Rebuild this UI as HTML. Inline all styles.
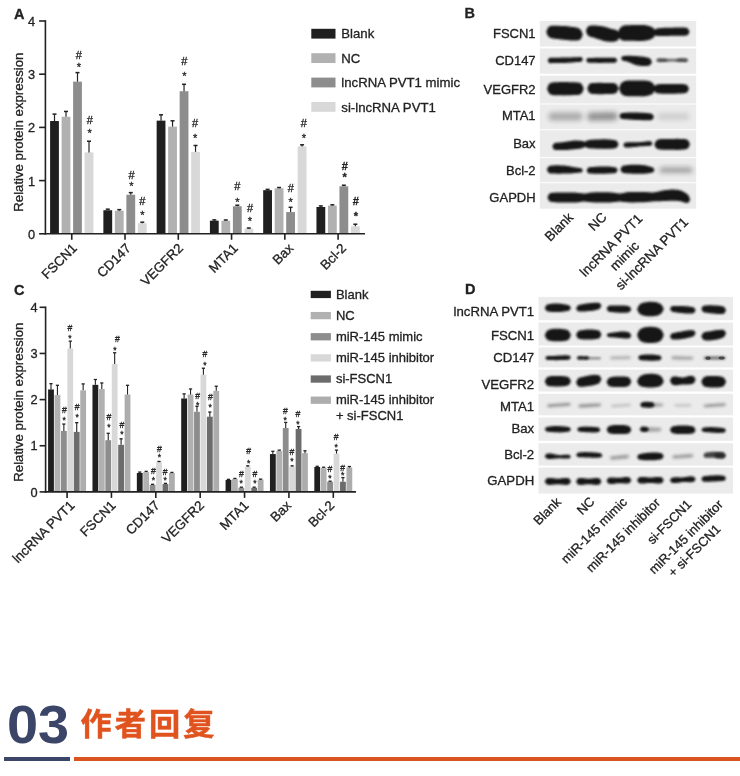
<!DOCTYPE html>
<html lang="zh"><head><meta charset="utf-8"><title>Figure</title>
<style>
html,body{margin:0;padding:0;background:#fff;}
body{width:740px;height:776px;position:relative;overflow:hidden;font-family:"Liberation Sans", "Noto Sans CJK SC", sans-serif;}
svg{position:absolute;left:0;top:0;}
svg text{font-family:"Liberation Sans", "Noto Sans CJK SC", sans-serif;stroke:#222;stroke-width:.3px;}
.num{position:absolute;left:7px;top:694.3px;font-size:54px;line-height:60px;font-weight:bold;color:#3b4567;transform:scaleX(1.035);transform-origin:0 0;}
.ttl{position:absolute;left:80.4px;top:701.6px;font-size:31.2px;line-height:46px;font-weight:bold;color:#e0531f;letter-spacing:3.1px;white-space:nowrap;-webkit-text-stroke:0.5px #e0531f;}
.l1{position:absolute;left:4px;top:757px;width:66px;height:4px;background:#3b4567;}
.l2{position:absolute;left:74px;top:757px;width:666px;height:4px;background:#d9541f;}
</style></head><body>
<svg width="740" height="690" viewBox="0 0 740 690">
<defs>
<filter id="s0" x="-5%" y="-20%" width="110%" height="140%"><feGaussianBlur stdDeviation="0.45"/></filter>
<filter id="b0" x="-30%" y="-80%" width="160%" height="260%"><feGaussianBlur stdDeviation="0.6"/></filter>
<filter id="b1" x="-30%" y="-80%" width="160%" height="260%"><feGaussianBlur stdDeviation="1.0"/></filter>
<filter id="b2" x="-30%" y="-80%" width="160%" height="260%"><feGaussianBlur stdDeviation="1.8"/></filter>
<filter id="b3" x="-30%" y="-80%" width="160%" height="260%"><feGaussianBlur stdDeviation="2.6"/></filter>
</defs>
<rect x="50.10" y="121.02" width="8.80" height="112.78" fill="#1f1f1f"/>
<line x1="54.50" y1="121.02" x2="54.50" y2="114.10" stroke="#222" stroke-width="1.2"/>
<line x1="52.50" y1="114.10" x2="56.50" y2="114.10" stroke="#222" stroke-width="1.5"/>
<rect x="61.60" y="116.76" width="8.80" height="117.04" fill="#b1b1b1"/>
<line x1="66.00" y1="116.76" x2="66.00" y2="111.44" stroke="#222" stroke-width="1.2"/>
<line x1="64.00" y1="111.44" x2="68.00" y2="111.44" stroke="#222" stroke-width="1.5"/>
<rect x="73.10" y="81.65" width="8.80" height="152.15" fill="#8d8d8d"/>
<line x1="77.50" y1="81.65" x2="77.50" y2="72.60" stroke="#222" stroke-width="1.2"/>
<line x1="75.50" y1="72.60" x2="79.50" y2="72.60" stroke="#222" stroke-width="1.5"/>
<rect x="84.60" y="152.40" width="8.80" height="81.40" fill="#d8d8d8"/>
<line x1="89.00" y1="152.40" x2="89.00" y2="141.23" stroke="#222" stroke-width="1.2"/>
<line x1="87.00" y1="141.23" x2="91.00" y2="141.23" stroke="#222" stroke-width="1.5"/>
<rect x="103.37" y="210.23" width="8.80" height="23.57" fill="#1f1f1f"/>
<line x1="107.77" y1="210.23" x2="107.77" y2="209.17" stroke="#222" stroke-width="1.2"/>
<line x1="105.77" y1="209.17" x2="109.77" y2="209.17" stroke="#222" stroke-width="1.5"/>
<rect x="114.87" y="210.71" width="8.80" height="23.09" fill="#b1b1b1"/>
<line x1="119.27" y1="210.71" x2="119.27" y2="209.65" stroke="#222" stroke-width="1.2"/>
<line x1="117.27" y1="209.65" x2="121.27" y2="209.65" stroke="#222" stroke-width="1.5"/>
<rect x="126.37" y="194.75" width="8.80" height="39.05" fill="#8d8d8d"/>
<line x1="130.77" y1="194.75" x2="130.77" y2="192.62" stroke="#222" stroke-width="1.2"/>
<line x1="128.77" y1="192.62" x2="132.77" y2="192.62" stroke="#222" stroke-width="1.5"/>
<rect x="137.87" y="223.27" width="8.80" height="10.53" fill="#d8d8d8"/>
<line x1="142.27" y1="223.27" x2="142.27" y2="222.20" stroke="#222" stroke-width="1.2"/>
<line x1="140.27" y1="222.20" x2="144.27" y2="222.20" stroke="#222" stroke-width="1.5"/>
<rect x="156.64" y="120.64" width="8.80" height="113.16" fill="#1f1f1f"/>
<line x1="161.04" y1="120.64" x2="161.04" y2="114.79" stroke="#222" stroke-width="1.2"/>
<line x1="159.04" y1="114.79" x2="163.04" y2="114.79" stroke="#222" stroke-width="1.5"/>
<rect x="168.14" y="126.66" width="8.80" height="107.14" fill="#b1b1b1"/>
<line x1="172.54" y1="126.66" x2="172.54" y2="120.80" stroke="#222" stroke-width="1.2"/>
<line x1="170.54" y1="120.80" x2="174.54" y2="120.80" stroke="#222" stroke-width="1.5"/>
<rect x="179.64" y="91.22" width="8.80" height="142.58" fill="#8d8d8d"/>
<line x1="184.04" y1="91.22" x2="184.04" y2="84.31" stroke="#222" stroke-width="1.2"/>
<line x1="182.04" y1="84.31" x2="186.04" y2="84.31" stroke="#222" stroke-width="1.5"/>
<rect x="191.14" y="151.87" width="8.80" height="81.93" fill="#d8d8d8"/>
<line x1="195.54" y1="151.87" x2="195.54" y2="145.49" stroke="#222" stroke-width="1.2"/>
<line x1="193.54" y1="145.49" x2="197.54" y2="145.49" stroke="#222" stroke-width="1.5"/>
<rect x="209.91" y="220.66" width="8.80" height="13.14" fill="#1f1f1f"/>
<line x1="214.31" y1="220.66" x2="214.31" y2="219.86" stroke="#222" stroke-width="1.2"/>
<line x1="212.31" y1="219.86" x2="216.31" y2="219.86" stroke="#222" stroke-width="1.5"/>
<rect x="221.41" y="220.77" width="8.80" height="13.03" fill="#b1b1b1"/>
<line x1="225.81" y1="220.77" x2="225.81" y2="219.97" stroke="#222" stroke-width="1.2"/>
<line x1="223.81" y1="219.97" x2="227.81" y2="219.97" stroke="#222" stroke-width="1.5"/>
<rect x="232.91" y="206.30" width="8.80" height="27.50" fill="#8d8d8d"/>
<line x1="237.31" y1="206.30" x2="237.31" y2="205.23" stroke="#222" stroke-width="1.2"/>
<line x1="235.31" y1="205.23" x2="239.31" y2="205.23" stroke="#222" stroke-width="1.5"/>
<rect x="244.41" y="228.69" width="8.80" height="5.11" fill="#d8d8d8"/>
<line x1="248.81" y1="228.69" x2="248.81" y2="228.05" stroke="#222" stroke-width="1.2"/>
<line x1="246.81" y1="228.05" x2="250.81" y2="228.05" stroke="#222" stroke-width="1.5"/>
<rect x="263.18" y="190.18" width="8.80" height="43.62" fill="#1f1f1f"/>
<line x1="267.58" y1="190.18" x2="267.58" y2="189.38" stroke="#222" stroke-width="1.2"/>
<line x1="265.58" y1="189.38" x2="269.58" y2="189.38" stroke="#222" stroke-width="1.5"/>
<rect x="274.68" y="188.31" width="8.80" height="45.49" fill="#b1b1b1"/>
<line x1="279.08" y1="188.31" x2="279.08" y2="187.52" stroke="#222" stroke-width="1.2"/>
<line x1="277.08" y1="187.52" x2="281.08" y2="187.52" stroke="#222" stroke-width="1.5"/>
<rect x="286.18" y="212.09" width="8.80" height="21.71" fill="#8d8d8d"/>
<line x1="290.58" y1="212.09" x2="290.58" y2="207.31" stroke="#222" stroke-width="1.2"/>
<line x1="288.58" y1="207.31" x2="292.58" y2="207.31" stroke="#222" stroke-width="1.5"/>
<rect x="297.68" y="146.39" width="8.80" height="87.41" fill="#d8d8d8"/>
<line x1="302.08" y1="146.39" x2="302.08" y2="144.80" stroke="#222" stroke-width="1.2"/>
<line x1="300.08" y1="144.80" x2="304.08" y2="144.80" stroke="#222" stroke-width="1.5"/>
<rect x="316.45" y="206.99" width="8.80" height="26.81" fill="#1f1f1f"/>
<line x1="320.85" y1="206.99" x2="320.85" y2="205.92" stroke="#222" stroke-width="1.2"/>
<line x1="318.85" y1="205.92" x2="322.85" y2="205.92" stroke="#222" stroke-width="1.5"/>
<rect x="327.95" y="205.60" width="8.80" height="28.20" fill="#b1b1b1"/>
<line x1="332.35" y1="205.60" x2="332.35" y2="204.81" stroke="#222" stroke-width="1.2"/>
<line x1="330.35" y1="204.81" x2="334.35" y2="204.81" stroke="#222" stroke-width="1.5"/>
<rect x="339.45" y="186.29" width="8.80" height="47.51" fill="#8d8d8d"/>
<line x1="343.85" y1="186.29" x2="343.85" y2="185.23" stroke="#222" stroke-width="1.2"/>
<line x1="341.85" y1="185.23" x2="345.85" y2="185.23" stroke="#222" stroke-width="1.5"/>
<rect x="350.95" y="226.35" width="8.80" height="7.45" fill="#d8d8d8"/>
<line x1="355.35" y1="226.35" x2="355.35" y2="224.22" stroke="#222" stroke-width="1.2"/>
<line x1="353.35" y1="224.22" x2="357.35" y2="224.22" stroke="#222" stroke-width="1.5"/>
<line x1="45.40" y1="20.20" x2="45.40" y2="234.60" stroke="#222" stroke-width="1.6"/>
<line x1="44.60" y1="233.80" x2="365.00" y2="233.80" stroke="#222" stroke-width="1.6"/>
<line x1="39.10" y1="233.80" x2="45.40" y2="233.80" stroke="#222" stroke-width="1.6"/>
<text x="31.50" y="238.70" font-size="12.8" text-anchor="middle" fill="#222">0</text>
<line x1="39.10" y1="180.60" x2="45.40" y2="180.60" stroke="#222" stroke-width="1.6"/>
<text x="31.50" y="185.50" font-size="12.8" text-anchor="middle" fill="#222">1</text>
<line x1="39.10" y1="127.40" x2="45.40" y2="127.40" stroke="#222" stroke-width="1.6"/>
<text x="31.50" y="132.30" font-size="12.8" text-anchor="middle" fill="#222">2</text>
<line x1="39.10" y1="74.20" x2="45.40" y2="74.20" stroke="#222" stroke-width="1.6"/>
<text x="31.50" y="79.10" font-size="12.8" text-anchor="middle" fill="#222">3</text>
<line x1="39.10" y1="21.00" x2="45.40" y2="21.00" stroke="#222" stroke-width="1.6"/>
<text x="31.50" y="25.90" font-size="12.8" text-anchor="middle" fill="#222">4</text>
<line x1="71.75" y1="233.80" x2="71.75" y2="239.80" stroke="#222" stroke-width="1.6"/>
<text x="77.75" y="249.00" font-size="13.3" text-anchor="end" fill="#222" transform="rotate(-45 77.75 249.00)">FSCN1</text>
<line x1="125.02" y1="233.80" x2="125.02" y2="239.80" stroke="#222" stroke-width="1.6"/>
<text x="131.82" y="249.00" font-size="13.3" text-anchor="end" fill="#222" transform="rotate(-45 131.82 249.00)">CD147</text>
<line x1="178.29" y1="233.80" x2="178.29" y2="239.80" stroke="#222" stroke-width="1.6"/>
<text x="183.89" y="249.00" font-size="13.3" text-anchor="end" fill="#222" transform="rotate(-45 183.89 249.00)">VEGFR2</text>
<line x1="231.56" y1="233.80" x2="231.56" y2="239.80" stroke="#222" stroke-width="1.6"/>
<text x="238.76" y="249.00" font-size="13.3" text-anchor="end" fill="#222" transform="rotate(-45 238.76 249.00)">MTA1</text>
<line x1="284.83" y1="233.80" x2="284.83" y2="239.80" stroke="#222" stroke-width="1.6"/>
<text x="294.23" y="249.00" font-size="13.3" text-anchor="end" fill="#222" transform="rotate(-45 294.23 249.00)">Bax</text>
<line x1="338.10" y1="233.80" x2="338.10" y2="239.80" stroke="#222" stroke-width="1.6"/>
<text x="347.10" y="249.00" font-size="13.3" text-anchor="end" fill="#222" transform="rotate(-45 347.10 249.00)">Bcl-2</text>
<text x="22.70" y="132.20" font-size="13.2" text-anchor="middle" fill="#222" transform="rotate(-90 22.70 132.20)">Relative protein expression</text>
<text x="14.00" y="18.60" font-size="14.5" text-anchor="start" fill="#222" font-weight="bold">A</text>
<text x="78.90" y="59.06" font-size="11" text-anchor="middle" fill="#222">#</text>
<text x="78.90" y="70.64" font-size="11" text-anchor="middle" fill="#222">*</text>
<text x="89.70" y="124.46" font-size="11" text-anchor="middle" fill="#222">#</text>
<text x="89.70" y="137.14" font-size="11" text-anchor="middle" fill="#222">*</text>
<text x="131.50" y="179.26" font-size="11" text-anchor="middle" fill="#222">#</text>
<text x="131.50" y="190.24" font-size="11" text-anchor="middle" fill="#222">*</text>
<text x="142.40" y="204.76" font-size="11" text-anchor="middle" fill="#222">#</text>
<text x="142.40" y="218.84" font-size="11" text-anchor="middle" fill="#222">*</text>
<text x="184.40" y="65.46" font-size="11" text-anchor="middle" fill="#222">#</text>
<text x="184.40" y="79.64" font-size="11" text-anchor="middle" fill="#222">*</text>
<text x="195.10" y="126.76" font-size="11" text-anchor="middle" fill="#222">#</text>
<text x="195.10" y="142.34" font-size="11" text-anchor="middle" fill="#222">*</text>
<text x="237.40" y="190.36" font-size="11" text-anchor="middle" fill="#222">#</text>
<text x="237.40" y="205.64" font-size="11" text-anchor="middle" fill="#222">*</text>
<text x="250.00" y="211.56" font-size="11" text-anchor="middle" fill="#222">#</text>
<text x="250.00" y="224.84" font-size="11" text-anchor="middle" fill="#222">*</text>
<text x="290.70" y="191.56" font-size="11" text-anchor="middle" fill="#222">#</text>
<text x="290.70" y="206.04" font-size="11" text-anchor="middle" fill="#222">*</text>
<text x="303.80" y="127.16" font-size="11" text-anchor="middle" fill="#222">#</text>
<text x="303.80" y="141.74" font-size="11" text-anchor="middle" fill="#222">*</text>
<text x="344.70" y="169.76" font-size="11" text-anchor="middle" fill="#222" font-weight="bold">#</text>
<text x="344.70" y="181.24" font-size="11" text-anchor="middle" fill="#222" font-weight="bold">*</text>
<text x="355.80" y="205.36" font-size="11" text-anchor="middle" fill="#222" font-weight="bold">#</text>
<text x="355.80" y="219.84" font-size="11" text-anchor="middle" fill="#222" font-weight="bold">*</text>
<rect x="311.30" y="28.80" width="24.20" height="9.80" fill="#1f1f1f"/>
<text x="341.30" y="38.40" font-size="13.2" text-anchor="start" fill="#222">Blank</text>
<rect x="311.30" y="53.20" width="24.20" height="9.80" fill="#b1b1b1"/>
<text x="341.30" y="62.80" font-size="13.2" text-anchor="start" fill="#222">NC</text>
<rect x="311.30" y="77.60" width="24.20" height="9.80" fill="#8d8d8d"/>
<text x="341.30" y="87.20" font-size="13.2" text-anchor="start" fill="#222">lncRNA PVT1 mimic</text>
<rect x="311.30" y="102.00" width="24.20" height="9.80" fill="#d8d8d8"/>
<text x="341.30" y="111.60" font-size="13.2" text-anchor="start" fill="#222">si-lncRNA PVT1</text>
<rect x="48.10" y="389.45" width="5.80" height="102.45" fill="#1f1f1f"/>
<line x1="51.00" y1="389.45" x2="51.00" y2="383.68" stroke="#222" stroke-width="1.1"/>
<line x1="49.40" y1="383.68" x2="52.60" y2="383.68" stroke="#222" stroke-width="1.3"/>
<rect x="54.53" y="394.98" width="5.80" height="96.92" fill="#b1b1b1"/>
<line x1="57.43" y1="394.98" x2="57.43" y2="385.29" stroke="#222" stroke-width="1.1"/>
<line x1="55.83" y1="385.29" x2="59.03" y2="385.29" stroke="#222" stroke-width="1.3"/>
<rect x="60.96" y="430.98" width="5.80" height="60.92" fill="#8d8d8d"/>
<line x1="63.86" y1="430.98" x2="63.86" y2="424.06" stroke="#222" stroke-width="1.1"/>
<line x1="62.26" y1="424.06" x2="65.46" y2="424.06" stroke="#222" stroke-width="1.3"/>
<rect x="67.39" y="348.56" width="5.80" height="143.34" fill="#d8d8d8"/>
<line x1="70.29" y1="348.56" x2="70.29" y2="341.17" stroke="#222" stroke-width="1.1"/>
<line x1="68.69" y1="341.17" x2="71.89" y2="341.17" stroke="#222" stroke-width="1.3"/>
<rect x="73.82" y="431.90" width="5.80" height="60.00" fill="#6c6c6c"/>
<line x1="76.72" y1="431.90" x2="76.72" y2="422.67" stroke="#222" stroke-width="1.1"/>
<line x1="75.12" y1="422.67" x2="78.32" y2="422.67" stroke="#222" stroke-width="1.3"/>
<rect x="80.25" y="390.37" width="5.80" height="101.53" fill="#adadad"/>
<line x1="83.15" y1="390.37" x2="83.15" y2="383.91" stroke="#222" stroke-width="1.1"/>
<line x1="81.55" y1="383.91" x2="84.75" y2="383.91" stroke="#222" stroke-width="1.3"/>
<rect x="92.47" y="384.83" width="5.80" height="107.07" fill="#1f1f1f"/>
<line x1="95.37" y1="384.83" x2="95.37" y2="379.52" stroke="#222" stroke-width="1.1"/>
<line x1="93.77" y1="379.52" x2="96.97" y2="379.52" stroke="#222" stroke-width="1.3"/>
<rect x="98.90" y="388.99" width="5.80" height="102.91" fill="#b1b1b1"/>
<line x1="101.80" y1="388.99" x2="101.80" y2="382.99" stroke="#222" stroke-width="1.1"/>
<line x1="100.20" y1="382.99" x2="103.40" y2="382.99" stroke="#222" stroke-width="1.3"/>
<rect x="105.33" y="440.21" width="5.80" height="51.69" fill="#8d8d8d"/>
<line x1="108.23" y1="440.21" x2="108.23" y2="433.29" stroke="#222" stroke-width="1.1"/>
<line x1="106.63" y1="433.29" x2="109.83" y2="433.29" stroke="#222" stroke-width="1.3"/>
<rect x="111.76" y="364.06" width="5.80" height="127.84" fill="#d8d8d8"/>
<line x1="114.66" y1="364.06" x2="114.66" y2="352.76" stroke="#222" stroke-width="1.1"/>
<line x1="113.06" y1="352.76" x2="116.26" y2="352.76" stroke="#222" stroke-width="1.3"/>
<rect x="118.19" y="444.83" width="5.80" height="47.07" fill="#6c6c6c"/>
<line x1="121.09" y1="444.83" x2="121.09" y2="438.83" stroke="#222" stroke-width="1.1"/>
<line x1="119.49" y1="438.83" x2="122.69" y2="438.83" stroke="#222" stroke-width="1.3"/>
<rect x="124.62" y="394.52" width="5.80" height="97.38" fill="#adadad"/>
<line x1="127.52" y1="394.52" x2="127.52" y2="385.29" stroke="#222" stroke-width="1.1"/>
<line x1="125.92" y1="385.29" x2="129.12" y2="385.29" stroke="#222" stroke-width="1.3"/>
<rect x="136.84" y="472.98" width="5.80" height="18.92" fill="#1f1f1f"/>
<line x1="139.74" y1="472.98" x2="139.74" y2="472.06" stroke="#222" stroke-width="1.1"/>
<line x1="138.14" y1="472.06" x2="141.34" y2="472.06" stroke="#222" stroke-width="1.3"/>
<rect x="143.27" y="472.06" width="5.80" height="19.84" fill="#b1b1b1"/>
<line x1="146.17" y1="472.06" x2="146.17" y2="471.36" stroke="#222" stroke-width="1.1"/>
<line x1="144.57" y1="471.36" x2="147.77" y2="471.36" stroke="#222" stroke-width="1.3"/>
<rect x="149.70" y="484.89" width="5.80" height="7.01" fill="#8d8d8d"/>
<line x1="152.60" y1="484.89" x2="152.60" y2="484.33" stroke="#222" stroke-width="1.1"/>
<line x1="151.00" y1="484.33" x2="154.20" y2="484.33" stroke="#222" stroke-width="1.3"/>
<rect x="156.13" y="462.13" width="5.80" height="29.77" fill="#d8d8d8"/>
<line x1="159.03" y1="462.13" x2="159.03" y2="461.44" stroke="#222" stroke-width="1.1"/>
<line x1="157.43" y1="461.44" x2="160.63" y2="461.44" stroke="#222" stroke-width="1.3"/>
<rect x="162.56" y="484.05" width="5.80" height="7.85" fill="#6c6c6c"/>
<line x1="165.46" y1="484.05" x2="165.46" y2="483.36" stroke="#222" stroke-width="1.1"/>
<line x1="163.86" y1="483.36" x2="167.06" y2="483.36" stroke="#222" stroke-width="1.3"/>
<rect x="168.99" y="472.98" width="5.80" height="18.92" fill="#adadad"/>
<line x1="171.89" y1="472.98" x2="171.89" y2="472.42" stroke="#222" stroke-width="1.1"/>
<line x1="170.29" y1="472.42" x2="173.49" y2="472.42" stroke="#222" stroke-width="1.3"/>
<rect x="181.21" y="398.49" width="5.80" height="93.41" fill="#1f1f1f"/>
<line x1="184.11" y1="398.49" x2="184.11" y2="393.88" stroke="#222" stroke-width="1.1"/>
<line x1="182.51" y1="393.88" x2="185.71" y2="393.88" stroke="#222" stroke-width="1.3"/>
<rect x="187.64" y="394.52" width="5.80" height="97.38" fill="#b1b1b1"/>
<line x1="190.54" y1="394.52" x2="190.54" y2="388.99" stroke="#222" stroke-width="1.1"/>
<line x1="188.94" y1="388.99" x2="192.14" y2="388.99" stroke="#222" stroke-width="1.3"/>
<rect x="194.07" y="411.83" width="5.80" height="80.07" fill="#8d8d8d"/>
<line x1="196.97" y1="411.83" x2="196.97" y2="406.29" stroke="#222" stroke-width="1.1"/>
<line x1="195.37" y1="406.29" x2="198.57" y2="406.29" stroke="#222" stroke-width="1.3"/>
<rect x="200.50" y="374.68" width="5.80" height="117.22" fill="#d8d8d8"/>
<line x1="203.40" y1="374.68" x2="203.40" y2="368.22" stroke="#222" stroke-width="1.1"/>
<line x1="201.80" y1="368.22" x2="205.00" y2="368.22" stroke="#222" stroke-width="1.3"/>
<rect x="206.93" y="416.68" width="5.80" height="75.22" fill="#6c6c6c"/>
<line x1="209.83" y1="416.68" x2="209.83" y2="412.06" stroke="#222" stroke-width="1.1"/>
<line x1="208.23" y1="412.06" x2="211.43" y2="412.06" stroke="#222" stroke-width="1.3"/>
<rect x="213.36" y="390.83" width="5.80" height="101.07" fill="#adadad"/>
<line x1="216.26" y1="390.83" x2="216.26" y2="386.22" stroke="#222" stroke-width="1.1"/>
<line x1="214.66" y1="386.22" x2="217.86" y2="386.22" stroke="#222" stroke-width="1.3"/>
<rect x="225.58" y="479.90" width="5.80" height="12.00" fill="#1f1f1f"/>
<line x1="228.48" y1="479.90" x2="228.48" y2="479.35" stroke="#222" stroke-width="1.1"/>
<line x1="226.88" y1="479.35" x2="230.08" y2="479.35" stroke="#222" stroke-width="1.3"/>
<rect x="232.01" y="478.98" width="5.80" height="12.92" fill="#b1b1b1"/>
<line x1="234.91" y1="478.98" x2="234.91" y2="478.42" stroke="#222" stroke-width="1.1"/>
<line x1="233.31" y1="478.42" x2="236.51" y2="478.42" stroke="#222" stroke-width="1.3"/>
<rect x="238.44" y="487.75" width="5.80" height="4.15" fill="#8d8d8d"/>
<line x1="241.34" y1="487.75" x2="241.34" y2="487.19" stroke="#222" stroke-width="1.1"/>
<line x1="239.74" y1="487.19" x2="242.94" y2="487.19" stroke="#222" stroke-width="1.3"/>
<rect x="244.87" y="466.52" width="5.80" height="25.38" fill="#d8d8d8"/>
<line x1="247.77" y1="466.52" x2="247.77" y2="465.83" stroke="#222" stroke-width="1.1"/>
<line x1="246.17" y1="465.83" x2="249.37" y2="465.83" stroke="#222" stroke-width="1.3"/>
<rect x="251.30" y="487.75" width="5.80" height="4.15" fill="#6c6c6c"/>
<line x1="254.20" y1="487.75" x2="254.20" y2="487.19" stroke="#222" stroke-width="1.1"/>
<line x1="252.60" y1="487.19" x2="255.80" y2="487.19" stroke="#222" stroke-width="1.3"/>
<rect x="257.73" y="479.67" width="5.80" height="12.23" fill="#adadad"/>
<line x1="260.63" y1="479.67" x2="260.63" y2="479.12" stroke="#222" stroke-width="1.1"/>
<line x1="259.03" y1="479.12" x2="262.23" y2="479.12" stroke="#222" stroke-width="1.3"/>
<rect x="269.95" y="454.06" width="5.80" height="37.84" fill="#1f1f1f"/>
<line x1="272.85" y1="454.06" x2="272.85" y2="451.29" stroke="#222" stroke-width="1.1"/>
<line x1="271.25" y1="451.29" x2="274.45" y2="451.29" stroke="#222" stroke-width="1.3"/>
<rect x="276.38" y="450.83" width="5.80" height="41.07" fill="#b1b1b1"/>
<line x1="279.28" y1="450.83" x2="279.28" y2="450.13" stroke="#222" stroke-width="1.1"/>
<line x1="277.68" y1="450.13" x2="280.88" y2="450.13" stroke="#222" stroke-width="1.3"/>
<rect x="282.81" y="427.98" width="5.80" height="63.92" fill="#8d8d8d"/>
<line x1="285.71" y1="427.98" x2="285.71" y2="422.44" stroke="#222" stroke-width="1.1"/>
<line x1="284.11" y1="422.44" x2="287.31" y2="422.44" stroke="#222" stroke-width="1.3"/>
<rect x="289.24" y="466.52" width="5.80" height="25.38" fill="#d8d8d8"/>
<line x1="292.14" y1="466.52" x2="292.14" y2="465.83" stroke="#222" stroke-width="1.1"/>
<line x1="290.54" y1="465.83" x2="293.74" y2="465.83" stroke="#222" stroke-width="1.3"/>
<rect x="295.67" y="428.91" width="5.80" height="62.99" fill="#6c6c6c"/>
<line x1="298.57" y1="428.91" x2="298.57" y2="426.60" stroke="#222" stroke-width="1.1"/>
<line x1="296.97" y1="426.60" x2="300.17" y2="426.60" stroke="#222" stroke-width="1.3"/>
<rect x="302.10" y="453.13" width="5.80" height="38.77" fill="#adadad"/>
<line x1="305.00" y1="453.13" x2="305.00" y2="450.83" stroke="#222" stroke-width="1.1"/>
<line x1="303.40" y1="450.83" x2="306.60" y2="450.83" stroke="#222" stroke-width="1.3"/>
<rect x="314.32" y="466.98" width="5.80" height="24.92" fill="#1f1f1f"/>
<line x1="317.22" y1="466.98" x2="317.22" y2="466.29" stroke="#222" stroke-width="1.1"/>
<line x1="315.62" y1="466.29" x2="318.82" y2="466.29" stroke="#222" stroke-width="1.3"/>
<rect x="320.75" y="467.90" width="5.80" height="24.00" fill="#b1b1b1"/>
<line x1="323.65" y1="467.90" x2="323.65" y2="467.21" stroke="#222" stroke-width="1.1"/>
<line x1="322.05" y1="467.21" x2="325.25" y2="467.21" stroke="#222" stroke-width="1.3"/>
<rect x="327.18" y="481.75" width="5.80" height="10.15" fill="#8d8d8d"/>
<line x1="330.08" y1="481.75" x2="330.08" y2="481.19" stroke="#222" stroke-width="1.1"/>
<line x1="328.48" y1="481.19" x2="331.68" y2="481.19" stroke="#222" stroke-width="1.3"/>
<rect x="333.61" y="453.60" width="5.80" height="38.30" fill="#d8d8d8"/>
<line x1="336.51" y1="453.60" x2="336.51" y2="450.13" stroke="#222" stroke-width="1.1"/>
<line x1="334.91" y1="450.13" x2="338.11" y2="450.13" stroke="#222" stroke-width="1.3"/>
<rect x="340.04" y="481.75" width="5.80" height="10.15" fill="#6c6c6c"/>
<line x1="342.94" y1="481.75" x2="342.94" y2="477.59" stroke="#222" stroke-width="1.1"/>
<line x1="341.34" y1="477.59" x2="344.54" y2="477.59" stroke="#222" stroke-width="1.3"/>
<rect x="346.47" y="467.44" width="5.80" height="24.46" fill="#adadad"/>
<line x1="349.37" y1="467.44" x2="349.37" y2="466.52" stroke="#222" stroke-width="1.1"/>
<line x1="347.77" y1="466.52" x2="350.97" y2="466.52" stroke="#222" stroke-width="1.3"/>
<line x1="45.60" y1="306.50" x2="45.60" y2="492.70" stroke="#222" stroke-width="1.6"/>
<line x1="44.80" y1="491.90" x2="356.00" y2="491.90" stroke="#222" stroke-width="1.6"/>
<line x1="39.60" y1="491.90" x2="45.60" y2="491.90" stroke="#222" stroke-width="1.6"/>
<text x="34.00" y="496.50" font-size="12.8" text-anchor="middle" fill="#222">0</text>
<line x1="39.60" y1="445.75" x2="45.60" y2="445.75" stroke="#222" stroke-width="1.6"/>
<text x="34.00" y="450.35" font-size="12.8" text-anchor="middle" fill="#222">1</text>
<line x1="39.60" y1="399.60" x2="45.60" y2="399.60" stroke="#222" stroke-width="1.6"/>
<text x="34.00" y="404.20" font-size="12.8" text-anchor="middle" fill="#222">2</text>
<line x1="39.60" y1="353.45" x2="45.60" y2="353.45" stroke="#222" stroke-width="1.6"/>
<text x="34.00" y="358.05" font-size="12.8" text-anchor="middle" fill="#222">3</text>
<line x1="39.60" y1="307.30" x2="45.60" y2="307.30" stroke="#222" stroke-width="1.6"/>
<text x="34.00" y="311.90" font-size="12.8" text-anchor="middle" fill="#222">4</text>
<line x1="67.08" y1="491.90" x2="67.08" y2="497.90" stroke="#222" stroke-width="1.6"/>
<text x="75.38" y="506.30" font-size="13.3" text-anchor="end" fill="#222" transform="rotate(-45 75.38 506.30)">lncRNA PVT1</text>
<line x1="111.44" y1="491.90" x2="111.44" y2="497.90" stroke="#222" stroke-width="1.6"/>
<text x="116.44" y="506.30" font-size="13.3" text-anchor="end" fill="#222" transform="rotate(-45 116.44 506.30)">FSCN1</text>
<line x1="155.81" y1="491.90" x2="155.81" y2="497.90" stroke="#222" stroke-width="1.6"/>
<text x="160.52" y="506.30" font-size="13.3" text-anchor="end" fill="#222" transform="rotate(-45 160.52 506.30)">CD147</text>
<line x1="200.18" y1="491.90" x2="200.18" y2="497.90" stroke="#222" stroke-width="1.6"/>
<text x="204.88" y="506.30" font-size="13.3" text-anchor="end" fill="#222" transform="rotate(-45 204.88 506.30)">VEGFR2</text>
<line x1="244.55" y1="491.90" x2="244.55" y2="497.90" stroke="#222" stroke-width="1.6"/>
<text x="249.55" y="506.30" font-size="13.3" text-anchor="end" fill="#222" transform="rotate(-45 249.55 506.30)">MTA1</text>
<line x1="288.93" y1="491.90" x2="288.93" y2="497.90" stroke="#222" stroke-width="1.6"/>
<text x="292.03" y="506.30" font-size="13.3" text-anchor="end" fill="#222" transform="rotate(-45 292.03 506.30)">Bax</text>
<line x1="333.30" y1="491.90" x2="333.30" y2="497.90" stroke="#222" stroke-width="1.6"/>
<text x="335.20" y="506.30" font-size="13.3" text-anchor="end" fill="#222" transform="rotate(-45 335.20 506.30)">Bcl-2</text>
<text x="22.70" y="402.20" font-size="13.2" text-anchor="middle" fill="#222" transform="rotate(-90 22.70 402.20)">Relative protein expression</text>
<text x="14.00" y="294.80" font-size="14.5" text-anchor="start" fill="#222" font-weight="bold">C</text>
<text x="64.30" y="412.94" font-size="8.6" text-anchor="middle" fill="#222" stroke-width="0.1">#</text>
<text x="64.30" y="422.81" font-size="8.6" text-anchor="middle" fill="#222" stroke-width="0.1">*</text>
<text x="70.00" y="331.34" font-size="8.6" text-anchor="middle" fill="#222" stroke-width="0.1">#</text>
<text x="70.00" y="340.91" font-size="8.6" text-anchor="middle" fill="#222" stroke-width="0.1">*</text>
<text x="77.10" y="409.74" font-size="8.6" text-anchor="middle" fill="#222" stroke-width="0.1">#</text>
<text x="77.10" y="420.41" font-size="8.6" text-anchor="middle" fill="#222" stroke-width="0.1">*</text>
<text x="108.90" y="420.24" font-size="8.6" text-anchor="middle" fill="#222" stroke-width="0.1">#</text>
<text x="108.90" y="430.31" font-size="8.6" text-anchor="middle" fill="#222" stroke-width="0.1">*</text>
<text x="117.50" y="342.34" font-size="8.6" text-anchor="middle" fill="#222" stroke-width="0.1">#</text>
<text x="114.90" y="353.01" font-size="8.6" text-anchor="middle" fill="#222" stroke-width="0.1">*</text>
<text x="121.90" y="427.54" font-size="8.6" text-anchor="middle" fill="#222" stroke-width="0.1">#</text>
<text x="121.90" y="437.11" font-size="8.6" text-anchor="middle" fill="#222" stroke-width="0.1">*</text>
<text x="153.50" y="474.24" font-size="8.6" text-anchor="middle" fill="#222" stroke-width="0.1">#</text>
<text x="153.50" y="482.51" font-size="8.6" text-anchor="middle" fill="#222" stroke-width="0.1">*</text>
<text x="159.50" y="452.34" font-size="8.6" text-anchor="middle" fill="#222" stroke-width="0.1">#</text>
<text x="159.50" y="460.11" font-size="8.6" text-anchor="middle" fill="#222" stroke-width="0.1">*</text>
<text x="165.20" y="475.04" font-size="8.6" text-anchor="middle" fill="#222" stroke-width="0.1">#</text>
<text x="165.20" y="482.51" font-size="8.6" text-anchor="middle" fill="#222" stroke-width="0.1">*</text>
<text x="197.60" y="399.14" font-size="8.6" text-anchor="middle" fill="#222" stroke-width="0.1">#</text>
<text x="197.60" y="407.61" font-size="8.6" text-anchor="middle" fill="#222" stroke-width="0.1">*</text>
<text x="204.90" y="356.94" font-size="8.6" text-anchor="middle" fill="#222" stroke-width="0.1">#</text>
<text x="204.90" y="368.01" font-size="8.6" text-anchor="middle" fill="#222" stroke-width="0.1">*</text>
<text x="210.30" y="400.44" font-size="8.6" text-anchor="middle" fill="#222" stroke-width="0.1">#</text>
<text x="210.30" y="410.41" font-size="8.6" text-anchor="middle" fill="#222" stroke-width="0.1">*</text>
<text x="241.30" y="476.64" font-size="8.6" text-anchor="middle" fill="#222" stroke-width="0.1">#</text>
<text x="241.30" y="486.41" font-size="8.6" text-anchor="middle" fill="#222" stroke-width="0.1">*</text>
<text x="248.60" y="454.34" font-size="8.6" text-anchor="middle" fill="#222" stroke-width="0.1">#</text>
<text x="248.60" y="465.51" font-size="8.6" text-anchor="middle" fill="#222" stroke-width="0.1">*</text>
<text x="254.90" y="476.64" font-size="8.6" text-anchor="middle" fill="#222" stroke-width="0.1">#</text>
<text x="254.90" y="486.41" font-size="8.6" text-anchor="middle" fill="#222" stroke-width="0.1">*</text>
<text x="285.30" y="413.74" font-size="8.6" text-anchor="middle" fill="#222" stroke-width="0.1">#</text>
<text x="285.30" y="422.91" font-size="8.6" text-anchor="middle" fill="#222" stroke-width="0.1">*</text>
<text x="292.00" y="454.94" font-size="8.6" text-anchor="middle" fill="#222" stroke-width="0.1">#</text>
<text x="292.00" y="464.11" font-size="8.6" text-anchor="middle" fill="#222" stroke-width="0.1">*</text>
<text x="298.00" y="416.94" font-size="8.6" text-anchor="middle" fill="#222" stroke-width="0.1">#</text>
<text x="298.00" y="426.61" font-size="8.6" text-anchor="middle" fill="#222" stroke-width="0.1">*</text>
<text x="329.90" y="471.54" font-size="8.6" text-anchor="middle" fill="#222" stroke-width="0.1">#</text>
<text x="329.90" y="480.71" font-size="8.6" text-anchor="middle" fill="#222" stroke-width="0.1">*</text>
<text x="336.20" y="440.34" font-size="8.6" text-anchor="middle" fill="#222" stroke-width="0.1">#</text>
<text x="336.20" y="449.71" font-size="8.6" text-anchor="middle" fill="#222" stroke-width="0.1">*</text>
<text x="342.60" y="470.54" font-size="8.6" text-anchor="middle" fill="#222" stroke-width="0.1">#</text>
<text x="342.60" y="478.11" font-size="8.6" text-anchor="middle" fill="#222" stroke-width="0.1">*</text>
<rect x="310.70" y="290.80" width="20.20" height="7.30" fill="#1f1f1f"/>
<text x="335.90" y="298.50" font-size="13" text-anchor="start" fill="#222">Blank</text>
<rect x="310.70" y="311.95" width="20.20" height="7.30" fill="#b1b1b1"/>
<text x="335.90" y="319.65" font-size="13" text-anchor="start" fill="#222">NC</text>
<rect x="310.70" y="333.10" width="20.20" height="7.30" fill="#8d8d8d"/>
<text x="335.90" y="340.80" font-size="13" text-anchor="start" fill="#222">miR-145 mimic</text>
<rect x="310.70" y="354.25" width="20.20" height="7.30" fill="#d8d8d8"/>
<text x="335.90" y="361.95" font-size="13" text-anchor="start" fill="#222">miR-145 inhibitor</text>
<rect x="310.70" y="375.40" width="20.20" height="7.30" fill="#6c6c6c"/>
<text x="335.90" y="383.10" font-size="13" text-anchor="start" fill="#222">si-FSCN1</text>
<rect x="310.70" y="396.55" width="20.20" height="7.30" fill="#adadad"/>
<text x="335.90" y="404.25" font-size="13" text-anchor="start" fill="#222">miR-145 inhibitor</text>
<text x="335.90" y="419.70" font-size="13" text-anchor="start" fill="#222">+ si-FSCN1</text>
<text x="464.50" y="18.30" font-size="14.5" text-anchor="start" fill="#222" font-weight="bold">B</text>
<rect x="539.80" y="21.00" width="156.40" height="25.50" fill="#ebebeb" filter="url(#s0)"/>
<text x="535.60" y="37.80" font-size="13.0" text-anchor="end" fill="#222">FSCN1</text>
<rect x="539.80" y="48.50" width="156.40" height="25.20" fill="#ebebeb" filter="url(#s0)"/>
<text x="535.60" y="65.10" font-size="13.0" text-anchor="end" fill="#222">CD147</text>
<rect x="539.80" y="75.70" width="156.40" height="27.80" fill="#ebebeb" filter="url(#s0)"/>
<text x="535.60" y="93.50" font-size="13.0" text-anchor="end" fill="#222">VEGFR2</text>
<rect x="539.80" y="104.50" width="156.40" height="24.70" fill="#ebebeb" filter="url(#s0)"/>
<text x="535.60" y="120.30" font-size="13.0" text-anchor="end" fill="#222">MTA1</text>
<rect x="539.80" y="130.20" width="156.40" height="26.90" fill="#ebebeb" filter="url(#s0)"/>
<text x="535.60" y="148.30" font-size="13.0" text-anchor="end" fill="#222">Bax</text>
<rect x="539.80" y="158.10" width="156.40" height="24.10" fill="#ebebeb" filter="url(#s0)"/>
<text x="535.60" y="174.80" font-size="13.0" text-anchor="end" fill="#222">Bcl-2</text>
<rect x="539.80" y="183.20" width="156.40" height="25.50" fill="#ebebeb" filter="url(#s0)"/>
<text x="535.60" y="201.70" font-size="13.0" text-anchor="end" fill="#222">GAPDH</text>
<path d="M546.2,32.0 547.9,27.7 549.7,26.3 551.4,25.7 553.2,25.7 554.9,25.7 556.7,25.8 558.4,25.8 560.1,25.9 561.9,25.9 563.6,26.0 565.4,26.1 567.1,26.3 568.9,26.5 570.6,26.7 572.3,26.9 574.1,27.1 575.8,27.4 577.6,27.8 579.3,28.7 581.1,30.2 582.8,34.5 582.8,34.5 581.1,38.7 579.3,39.9 577.6,40.5 575.8,40.6 574.1,40.6 572.3,40.5 570.6,40.4 568.9,40.3 567.1,40.1 565.4,40.0 563.6,39.8 561.9,39.6 560.1,39.4 558.4,39.1 556.7,38.9 554.9,38.7 553.2,38.4 551.4,38.2 549.7,37.5 547.9,36.1 546.2,32.0Z M585.8,31.0 587.5,27.1 589.2,26.0 590.9,25.6 592.6,25.5 594.3,25.5 596.1,25.6 597.8,25.7 599.5,25.9 601.2,26.1 602.9,26.4 604.6,26.8 606.3,27.2 608.0,27.7 609.7,28.3 611.5,28.9 613.2,29.3 614.9,29.6 616.6,30.2 618.3,31.5 620.0,35.6 620.0,35.6 618.3,39.7 616.6,41.0 614.9,41.6 613.2,41.7 611.5,41.7 609.7,41.7 608.0,41.6 606.3,41.4 604.6,41.1 602.9,40.7 601.2,40.1 599.5,39.6 597.8,39.0 596.1,38.4 594.3,37.8 592.6,37.3 590.9,36.9 589.2,36.3 587.5,35.0 585.8,31.0Z M617.5,33.9 619.2,29.3 620.8,27.3 622.5,26.1 624.2,25.5 625.9,25.3 627.5,25.2 629.2,25.2 630.9,25.1 632.6,25.1 634.2,25.1 635.9,25.1 637.6,25.1 639.3,25.1 640.9,25.0 642.6,25.1 644.3,25.1 646.0,25.3 647.6,25.7 649.3,26.1 651.0,26.7 652.7,27.5 654.3,29.0 656.0,32.8 656.0,32.8 654.3,36.7 652.7,38.3 651.0,39.2 649.3,39.8 647.6,40.3 646.0,40.6 644.3,40.8 642.6,40.9 640.9,40.9 639.3,40.9 637.6,40.9 635.9,40.9 634.2,40.8 632.6,40.8 630.9,40.8 629.2,40.8 627.5,40.8 625.9,40.8 624.2,40.7 622.5,40.5 620.8,39.6 619.2,38.2 617.5,33.9Z M653.5,32.4 655.2,29.2 656.9,28.4 658.7,28.2 660.4,28.0 662.1,27.9 663.8,27.8 665.5,27.8 667.3,27.8 669.0,27.7 670.7,27.7 672.4,27.7 674.1,27.6 675.8,27.6 677.6,27.6 679.3,27.5 681.0,27.6 682.7,27.6 684.4,27.6 686.2,27.7 687.9,28.4 689.6,31.7 689.6,31.7 687.9,35.0 686.2,35.6 684.4,35.7 682.7,35.7 681.0,35.8 679.3,35.8 677.6,35.8 675.8,35.8 674.1,35.8 672.4,35.8 670.7,35.8 669.0,35.9 667.3,35.9 665.5,35.9 663.8,35.9 662.1,35.9 660.4,35.9 658.7,35.9 656.9,35.9 655.2,35.4 653.5,32.4Z M547.5,60.5 549.2,58.0 550.9,57.8 552.6,57.7 554.3,57.7 556.0,57.7 557.6,57.7 559.3,57.7 561.0,57.6 562.7,57.6 564.4,57.6 566.1,57.6 567.8,57.5 569.5,57.5 571.2,57.4 572.9,57.3 574.5,57.3 576.2,57.2 577.9,57.2 579.6,57.1 581.3,57.1 583.0,59.3 583.0,59.3 581.3,61.7 579.6,61.9 577.9,62.0 576.2,62.1 574.5,62.3 572.9,62.4 571.2,62.5 569.5,62.7 567.8,62.8 566.1,62.9 564.4,63.0 562.7,63.0 561.0,63.0 559.3,63.1 557.6,63.1 556.0,63.1 554.3,63.1 552.6,63.1 550.9,63.2 549.2,63.0 547.5,60.5Z M586.0,60.3 587.7,58.0 589.5,57.9 591.2,57.9 593.0,57.9 594.7,57.8 596.5,57.8 598.2,57.7 600.0,57.7 601.7,57.7 603.4,57.7 605.2,57.7 606.9,57.7 608.7,57.7 610.4,57.8 612.2,57.8 613.9,57.8 615.7,57.9 617.4,60.2 617.4,60.2 615.7,62.5 613.9,62.7 612.2,62.7 610.4,62.7 608.7,62.8 606.9,62.8 605.2,62.8 603.4,62.8 601.7,62.9 600.0,62.9 598.2,62.9 596.5,62.8 594.7,62.8 593.0,62.7 591.2,62.7 589.5,62.7 587.7,62.6 586.0,60.3Z M621.0,58.3 622.7,56.0 624.4,55.9 626.2,55.8 627.9,55.8 629.6,55.8 631.3,55.8 633.1,55.9 634.8,56.0 636.5,56.1 638.2,56.3 639.9,56.4 641.7,56.6 643.4,56.8 645.1,57.1 646.8,57.4 648.6,57.8 650.3,58.7 652.0,62.0 652.0,62.0 650.3,65.1 648.6,65.8 646.8,66.0 645.1,66.1 643.4,66.0 641.7,65.9 639.9,65.8 638.2,65.6 636.5,65.3 634.8,64.7 633.1,64.0 631.3,63.2 629.6,62.4 627.9,61.7 626.2,61.3 624.4,61.0 622.7,60.7 621.0,58.3Z M547.0,88.7 548.8,84.3 550.5,83.0 552.3,82.4 554.0,82.2 555.8,82.2 557.5,82.2 559.3,82.1 561.0,82.1 562.8,82.1 564.5,82.0 566.3,82.1 568.0,82.1 569.8,82.2 571.5,82.2 573.3,82.3 575.0,82.3 576.8,82.4 578.5,82.5 580.3,83.1 582.0,84.4 583.8,88.7 583.8,88.7 582.0,93.0 580.3,94.3 578.5,94.9 576.8,95.0 575.0,95.1 573.3,95.1 571.5,95.2 569.8,95.2 568.0,95.3 566.3,95.3 564.5,95.4 562.8,95.3 561.0,95.3 559.3,95.3 557.5,95.2 555.8,95.2 554.0,95.2 552.3,95.0 550.5,94.4 548.8,93.1 547.0,88.7Z M587.2,88.4 588.9,84.4 590.7,83.3 592.4,82.9 594.2,82.9 595.9,82.9 597.7,82.8 599.4,82.8 601.2,82.8 602.9,82.9 604.6,82.9 606.4,82.9 608.1,83.0 609.9,83.0 611.6,83.0 613.4,83.1 615.1,83.4 616.9,84.5 618.6,88.4 618.6,88.4 616.9,92.3 615.1,93.4 613.4,93.8 611.6,93.9 609.9,93.9 608.1,94.0 606.4,94.1 604.6,94.1 602.9,94.2 601.2,94.2 599.4,94.2 597.7,94.2 595.9,94.1 594.2,94.1 592.4,94.0 590.7,93.6 588.9,92.4 587.2,88.4Z M619.0,88.5 620.7,83.8 622.5,82.2 624.2,81.2 626.0,80.7 627.7,80.6 629.4,80.5 631.2,80.5 632.9,80.5 634.6,80.5 636.4,80.4 638.1,80.4 639.9,80.4 641.6,80.4 643.3,80.4 645.1,80.5 646.8,80.7 648.5,81.0 650.3,81.5 652.0,82.5 653.8,84.2 655.5,88.5 655.5,88.5 653.8,92.6 652.0,94.2 650.3,95.1 648.5,95.5 646.8,95.9 645.1,96.2 643.3,96.3 641.6,96.4 639.9,96.3 638.1,96.3 636.4,96.3 634.6,96.3 632.9,96.3 631.2,96.3 629.4,96.2 627.7,96.2 626.0,96.1 624.2,95.7 622.5,94.7 620.7,93.1 619.0,88.5Z M653.5,88.8 655.2,85.3 656.9,84.4 658.6,84.2 660.3,84.1 662.0,84.0 663.6,84.0 665.3,84.0 667.0,84.0 668.7,84.0 670.4,84.0 672.1,84.0 673.8,84.0 675.5,84.0 677.2,84.0 678.9,84.0 680.5,84.0 682.2,84.1 683.9,84.2 685.6,84.4 687.3,85.2 689.0,88.7 689.0,88.7 687.3,92.2 685.6,93.1 683.9,93.3 682.2,93.4 680.5,93.5 678.9,93.6 677.2,93.6 675.5,93.7 673.8,93.7 672.1,93.7 670.4,93.7 668.7,93.7 667.0,93.7 665.3,93.8 663.6,93.8 662.0,93.7 660.3,93.6 658.6,93.5 656.9,93.2 655.2,92.3 653.5,88.8Z M619.3,116.0 621.0,113.3 622.8,112.9 624.5,112.8 626.2,112.7 628.0,112.6 629.7,112.5 631.4,112.5 633.2,112.5 634.9,112.5 636.6,112.6 638.4,112.6 640.1,112.7 641.9,112.7 643.6,112.8 645.3,112.9 647.1,113.1 648.8,113.3 650.5,113.5 652.3,114.1 654.0,117.0 654.0,117.0 652.3,119.8 650.5,120.2 648.8,120.2 647.1,120.3 645.3,120.3 643.6,120.3 641.9,120.2 640.1,120.1 638.4,120.0 636.6,120.0 634.9,119.9 633.2,119.8 631.4,119.7 629.7,119.6 628.0,119.4 626.2,119.3 624.5,119.2 622.8,119.1 621.0,118.7 619.3,116.0Z M552.2,146.5 553.9,143.4 555.6,142.8 557.3,142.7 559.0,142.6 560.7,142.5 562.3,142.3 564.0,142.1 565.7,141.8 567.4,141.5 569.1,141.2 570.8,140.9 572.5,140.7 574.2,140.6 575.9,140.6 577.5,140.6 579.2,140.7 580.9,140.8 582.6,141.0 584.3,141.6 586.0,144.5 586.0,144.5 584.3,147.5 582.6,148.1 580.9,148.4 579.2,148.7 577.5,148.9 575.9,149.1 574.2,149.3 572.5,149.5 570.8,149.6 569.1,149.8 567.4,149.9 565.7,150.0 564.0,150.1 562.3,150.1 560.7,150.1 559.0,150.1 557.3,150.1 555.6,150.1 553.9,149.5 552.2,146.5Z M584.0,144.2 585.7,141.1 587.5,140.4 589.2,140.1 590.9,139.8 592.6,139.7 594.4,139.5 596.1,139.5 597.8,139.4 599.6,139.4 601.3,139.3 603.0,139.3 604.8,139.3 606.5,139.3 608.2,139.4 610.0,139.5 611.7,139.7 613.4,139.9 615.1,140.2 616.9,141.0 618.6,144.2 618.6,144.2 616.9,147.5 615.1,148.2 613.4,148.5 611.7,148.7 610.0,148.7 608.2,148.8 606.5,148.8 604.8,148.9 603.0,148.8 601.3,148.8 599.6,148.8 597.8,148.7 596.1,148.7 594.4,148.6 592.6,148.6 590.9,148.4 589.2,148.2 587.5,148.0 585.7,147.3 584.0,144.2Z M654.3,144.5 656.0,140.9 657.7,139.7 659.4,139.3 661.1,139.1 662.8,139.0 664.5,139.0 666.2,138.9 667.9,138.9 669.6,138.9 671.3,138.9 673.0,138.9 674.7,138.9 676.4,138.8 678.1,138.8 679.8,138.9 681.5,138.9 683.2,139.0 684.9,139.1 686.6,139.5 688.3,140.5 690.0,144.3 690.0,144.3 688.3,148.0 686.6,149.1 684.9,149.5 683.2,149.6 681.5,149.7 679.8,149.8 678.1,149.9 676.4,149.9 674.7,149.8 673.0,149.8 671.3,149.8 669.6,149.8 667.9,149.8 666.2,149.8 664.5,149.7 662.8,149.7 661.1,149.6 659.4,149.5 657.7,149.1 656.0,148.0 654.3,144.5Z M623.2,145.1 624.9,142.6 626.7,142.4 628.4,142.3 630.1,142.3 631.8,142.2 633.6,142.2 635.3,142.3 637.0,142.3 638.8,142.2 640.5,142.1 642.2,142.0 644.0,141.8 645.7,141.5 647.4,141.3 649.1,141.2 650.9,141.2 652.6,143.4 652.6,143.4 650.9,145.7 649.1,145.9 647.4,146.1 645.7,146.1 644.0,146.2 642.2,146.3 640.5,146.3 638.8,146.5 637.0,146.7 635.3,146.9 633.6,147.1 631.8,147.3 630.1,147.4 628.4,147.5 626.7,147.5 624.9,147.4 623.2,145.1Z M546.8,169.6 548.5,166.4 550.2,165.7 552.0,165.6 553.7,165.4 555.4,165.3 557.1,165.3 558.9,165.3 560.6,165.4 562.3,165.5 564.0,165.5 565.8,165.7 567.5,165.9 569.2,166.2 570.9,166.6 572.7,166.9 574.4,167.2 576.1,167.5 577.8,167.8 579.6,168.1 581.3,168.3 583.0,170.4 583.0,170.4 581.3,172.4 579.6,172.6 577.8,172.8 576.1,173.0 574.4,173.1 572.7,173.2 570.9,173.4 569.2,173.4 567.5,173.5 565.8,173.6 564.0,173.6 562.3,173.6 560.6,173.7 558.9,173.7 557.1,173.7 555.4,173.6 553.7,173.6 552.0,173.5 550.2,173.4 548.5,172.7 546.8,169.6Z M586.5,170.5 588.2,167.6 590.0,167.2 591.7,167.1 593.5,166.9 595.2,166.8 596.9,166.7 598.7,166.5 600.4,166.5 602.1,166.5 603.9,166.5 605.6,166.5 607.4,166.6 609.1,166.6 610.8,166.8 612.6,166.9 614.3,167.2 616.1,167.5 617.8,170.2 617.8,170.2 616.1,172.8 614.3,173.2 612.6,173.3 610.8,173.5 609.1,173.6 607.4,173.6 605.6,173.7 603.9,173.7 602.1,173.8 600.4,173.8 598.7,173.8 596.9,173.7 595.2,173.7 593.5,173.7 591.7,173.6 590.0,173.6 588.2,173.2 586.5,170.5Z M620.3,169.5 622.0,166.3 623.7,165.6 625.4,165.4 627.2,165.1 628.9,164.9 630.6,164.7 632.3,164.7 634.0,164.7 635.7,164.7 637.5,164.7 639.2,164.8 640.9,164.9 642.6,165.0 644.3,165.3 646.0,165.6 647.7,166.0 649.5,166.4 651.2,166.9 652.9,167.4 654.6,170.0 654.6,170.0 652.9,172.4 651.2,172.8 649.5,173.1 647.7,173.4 646.0,173.5 644.3,173.7 642.6,173.8 640.9,173.8 639.2,173.8 637.5,173.8 635.7,173.7 634.0,173.7 632.3,173.7 630.6,173.6 628.9,173.5 627.2,173.4 625.4,173.2 623.7,173.1 622.0,172.5 620.3,169.5Z M547.4,197.4 549.0,194.0 550.6,193.1 552.3,192.8 553.9,192.7 555.5,192.5 557.1,192.4 558.8,192.4 560.4,192.4 562.0,192.4 563.6,192.4 565.2,192.4 566.9,192.4 568.5,192.4 570.1,192.4 571.7,192.4 573.4,192.4 575.0,192.5 576.6,192.7 578.2,192.9 579.9,193.1 581.5,193.3 583.1,193.5 584.7,193.5 586.3,193.4 588.0,193.1 589.6,192.8 591.2,192.5 592.8,192.4 594.5,192.3 596.1,192.3 597.7,192.3 599.3,192.3 601.0,192.3 602.6,192.2 604.2,192.2 605.8,192.2 607.4,192.2 609.1,192.3 610.7,192.4 612.3,192.6 613.9,192.8 615.6,193.0 617.2,193.3 618.8,193.4 620.4,193.4 622.0,193.2 623.7,192.9 625.3,192.6 626.9,192.3 628.5,192.1 630.2,192.0 631.8,192.0 633.4,192.0 635.0,192.0 636.6,192.0 638.3,192.0 639.9,192.0 641.5,192.0 643.1,192.0 644.8,192.0 646.4,192.1 648.0,192.2 649.6,192.3 651.3,192.4 652.9,192.4 654.5,192.3 656.1,192.0 657.7,191.7 659.4,191.3 661.0,190.9 662.6,190.6 664.2,190.3 665.9,190.1 667.5,189.9 669.1,189.8 670.7,189.6 672.4,189.5 674.0,189.6 675.6,189.7 677.2,189.8 678.8,190.1 680.5,190.5 682.1,191.1 683.7,191.9 685.3,192.8 687.0,193.9 688.6,195.6 690.2,199.5 690.2,199.5 688.6,202.6 687.0,203.1 685.3,202.8 683.7,202.3 682.1,201.8 680.5,201.3 678.8,201.0 677.2,200.9 675.6,200.8 674.0,200.7 672.4,200.7 670.7,200.7 669.1,200.8 667.5,200.9 665.9,201.0 664.2,201.1 662.6,201.1 661.0,201.2 659.4,201.2 657.7,201.2 656.1,201.2 654.5,201.3 652.9,201.4 651.3,201.5 649.6,201.7 648.0,201.9 646.4,202.1 644.8,202.2 643.1,202.3 641.5,202.3 639.9,202.3 638.3,202.3 636.6,202.3 635.0,202.4 633.4,202.4 631.8,202.4 630.2,202.4 628.5,202.3 626.9,202.2 625.3,202.1 623.7,201.9 622.0,201.7 620.4,201.6 618.8,201.6 617.2,201.7 615.6,201.9 613.9,202.1 612.3,202.2 610.7,202.4 609.1,202.4 607.4,202.5 605.8,202.5 604.2,202.5 602.6,202.5 601.0,202.4 599.3,202.4 597.7,202.4 596.1,202.4 594.5,202.4 592.8,202.3 591.2,202.2 589.6,202.1 588.0,201.9 586.3,201.7 584.7,201.6 583.1,201.6 581.5,201.8 579.9,202.0 578.2,202.2 576.6,202.4 575.0,202.5 573.4,202.6 571.7,202.6 570.1,202.5 568.5,202.5 566.9,202.5 565.2,202.5 563.6,202.5 562.0,202.5 560.4,202.4 558.8,202.4 557.1,202.4 555.5,202.3 553.9,202.1 552.3,202.0 550.6,201.7 549.0,200.8 547.4,197.4Z" fill="#161616" filter="url(#b1)"/>
<path d="M655.8,60.2 657.5,58.4 659.2,58.5 661.0,58.5 662.7,58.6 664.4,58.6 666.1,58.7 667.8,58.7 669.6,58.7 671.3,58.8 673.0,58.8 674.7,58.7 676.5,58.7 678.2,58.7 679.9,58.6 681.6,58.6 683.3,58.5 685.1,58.5 686.8,58.4 688.5,60.2 688.5,60.2 686.8,62.0 685.1,61.9 683.3,61.9 681.6,61.8 679.9,61.8 678.2,61.7 676.5,61.7 674.7,61.7 673.0,61.6 671.3,61.6 669.6,61.7 667.8,61.7 666.1,61.7 664.4,61.8 662.7,61.8 661.0,61.9 659.2,61.9 657.5,62.0 655.8,60.2Z" fill="#161616" opacity="0.55" filter="url(#b1)"/>
<path d="M657.0,60.2 659.2,58.6 661.4,58.7 663.6,58.7 665.8,58.8 668.0,60.2 668.0,60.2 665.8,61.7 663.6,61.7 661.4,61.8 659.2,61.8 657.0,60.2Z M676.0,60.2 677.9,58.6 679.8,58.6 681.8,58.5 683.7,58.5 685.6,58.5 687.5,60.2 687.5,60.2 685.6,61.9 683.7,61.9 681.8,61.8 679.8,61.8 677.9,61.8 676.0,60.2Z" fill="#161616" opacity="0.45" filter="url(#b1)"/>
<path d="M548.0,116.5 549.8,113.2 551.5,112.5 553.2,112.5 555.0,112.5 556.8,112.5 558.5,112.5 560.2,112.5 562.0,112.5 563.8,112.5 565.5,112.5 567.2,112.5 569.0,112.5 570.8,112.5 572.5,112.5 574.2,112.5 576.0,112.5 577.8,112.5 579.5,112.5 581.2,113.2 583.0,116.5 583.0,116.5 581.2,119.8 579.5,120.5 577.8,120.5 576.0,120.5 574.2,120.5 572.5,120.5 570.8,120.5 569.0,120.5 567.2,120.5 565.5,120.5 563.8,120.5 562.0,120.5 560.2,120.5 558.5,120.5 556.8,120.5 555.0,120.5 553.2,120.5 551.5,120.5 549.8,119.8 548.0,116.5Z" fill="#161616" opacity="0.3" filter="url(#b3)"/>
<path d="M587.0,116.6 588.7,113.3 590.4,112.5 592.2,112.4 593.9,112.4 595.6,112.4 597.3,112.4 599.1,112.4 600.8,112.4 602.5,112.3 604.2,112.3 605.9,112.3 607.7,112.3 609.4,112.3 611.1,112.3 612.8,112.2 614.6,112.3 616.3,112.9 618.0,116.2 618.0,116.2 616.3,119.5 614.6,120.2 612.8,120.3 611.1,120.3 609.4,120.4 607.7,120.4 605.9,120.4 604.2,120.5 602.5,120.5 600.8,120.5 599.1,120.6 597.3,120.6 595.6,120.6 593.9,120.7 592.2,120.7 590.4,120.7 588.7,120.0 587.0,116.6Z" fill="#161616" opacity="0.42" filter="url(#b3)"/>
<path d="M657.0,116.5 658.7,113.5 660.5,113.0 662.2,113.0 663.9,113.0 665.7,113.0 667.4,113.0 669.2,113.0 670.9,113.0 672.6,113.0 674.4,113.0 676.1,113.0 677.8,113.0 679.6,113.0 681.3,113.0 683.1,113.0 684.8,113.0 686.5,113.0 688.3,113.5 690.0,116.5 690.0,116.5 688.3,119.5 686.5,120.0 684.8,120.0 683.1,120.0 681.3,120.0 679.6,120.0 677.8,120.0 676.1,120.0 674.4,120.0 672.6,120.0 670.9,120.0 669.2,120.0 667.4,120.0 665.7,120.0 663.9,120.0 662.2,120.0 660.5,120.0 658.7,119.5 657.0,116.5Z" fill="#161616" opacity="0.13" filter="url(#b3)"/>
<path d="M659.0,170.1 660.7,167.5 662.4,167.2 664.1,167.2 665.8,167.2 667.5,167.2 669.2,167.2 670.9,167.2 672.6,167.2 674.3,167.2 676.0,167.2 677.7,167.2 679.4,167.2 681.1,167.2 682.8,167.2 684.5,167.2 686.2,167.2 687.9,167.2 689.6,167.2 691.3,167.5 693.0,170.1 693.0,170.1 691.3,172.7 689.6,173.0 687.9,173.0 686.2,173.0 684.5,173.0 682.8,173.0 681.1,173.0 679.4,173.0 677.7,173.0 676.0,173.0 674.3,173.0 672.6,173.0 670.9,173.0 669.2,173.0 667.5,173.0 665.8,173.0 664.1,173.0 662.4,173.0 660.7,172.7 659.0,170.1Z" fill="#161616" opacity="0.34" filter="url(#b3)"/>
<g transform="translate(574.00 218.30) rotate(-45)">
<text x="0" y="0" font-size="13.4" text-anchor="end" fill="#222">Blank</text>
</g>
<g transform="translate(607.50 217.80) rotate(-45)">
<text x="0" y="0" font-size="13.4" text-anchor="end" fill="#222">NC</text>
</g>
<g transform="translate(643.20 219.50) rotate(-45)">
<text x="0" y="0" font-size="13.4" text-anchor="end" fill="#222">lncRNA PVT1</text>
<text x="-38.96" y="17.1" font-size="13.4" text-anchor="middle" fill="#222">mimic</text>
</g>
<g transform="translate(689.00 222.90) rotate(-45)">
<text x="0" y="0" font-size="13.4" text-anchor="end" fill="#222">si-lncRNA PVT1</text>
</g>
<text x="465.00" y="294.30" font-size="14.5" text-anchor="start" fill="#222" font-weight="bold">D</text>
<rect x="538.50" y="296.90" width="194.50" height="23.30" fill="#ebebeb" filter="url(#s0)"/>
<text x="534.20" y="316.30" font-size="13.2" text-anchor="end" fill="#222">lncRNA PVT1</text>
<rect x="538.50" y="322.50" width="194.50" height="23.10" fill="#ebebeb" filter="url(#s0)"/>
<text x="534.20" y="340.10" font-size="13.2" text-anchor="end" fill="#222">FSCN1</text>
<rect x="538.50" y="347.40" width="194.50" height="20.00" fill="#ebebeb" filter="url(#s0)"/>
<text x="534.20" y="362.30" font-size="13.2" text-anchor="end" fill="#222">CD147</text>
<rect x="538.50" y="369.60" width="194.50" height="21.90" fill="#ebebeb" filter="url(#s0)"/>
<text x="534.20" y="388.60" font-size="13.2" text-anchor="end" fill="#222">VEGFR2</text>
<rect x="538.50" y="393.80" width="194.50" height="21.50" fill="#ebebeb" filter="url(#s0)"/>
<text x="534.20" y="411.30" font-size="13.2" text-anchor="end" fill="#222">MTA1</text>
<rect x="538.50" y="417.50" width="194.50" height="23.30" fill="#ebebeb" filter="url(#s0)"/>
<text x="534.20" y="433.20" font-size="13.2" text-anchor="end" fill="#222">Bax</text>
<rect x="538.50" y="443.20" width="194.50" height="22.40" fill="#ebebeb" filter="url(#s0)"/>
<text x="534.20" y="459.30" font-size="13.2" text-anchor="end" fill="#222">Bcl-2</text>
<rect x="538.50" y="467.60" width="194.50" height="26.00" fill="#ebebeb" filter="url(#s0)"/>
<text x="534.20" y="484.80" font-size="13.2" text-anchor="end" fill="#222">GAPDH</text>
<path d="M544.7,308.0 546.5,304.9 548.2,304.3 550.0,304.0 551.7,303.7 553.5,303.6 555.2,303.6 557.0,303.6 558.7,303.6 560.5,303.7 562.2,304.0 564.0,304.2 565.7,304.6 567.5,304.9 569.2,305.3 571.0,308.0 571.0,308.0 569.2,310.6 567.5,311.0 565.7,311.2 564.0,311.5 562.2,311.7 560.5,311.9 558.7,312.0 557.0,312.0 555.2,312.0 553.5,312.0 551.7,311.9 550.0,311.7 548.2,311.5 546.5,311.0 544.7,308.0Z M576.0,308.5 577.8,305.4 579.6,304.8 581.5,304.4 583.3,304.1 585.1,303.8 586.9,303.6 588.8,303.3 590.6,303.1 592.4,302.9 594.2,302.7 596.0,302.7 597.9,302.8 599.7,303.1 601.5,305.8 601.5,305.8 599.7,308.8 597.9,309.5 596.0,310.0 594.2,310.4 592.4,310.7 590.6,310.9 588.8,311.1 586.9,311.3 585.1,311.4 583.3,311.5 581.5,311.6 579.6,311.6 577.8,311.3 576.0,308.5Z M606.5,308.7 608.3,305.9 610.1,305.6 611.8,305.5 613.6,305.4 615.4,305.4 617.2,305.4 619.0,305.4 620.7,305.4 622.5,305.5 624.3,305.6 626.1,305.7 627.8,305.9 629.6,306.4 631.4,309.2 631.4,309.2 629.6,312.1 627.8,312.6 626.1,312.7 624.3,312.8 622.5,312.8 620.7,312.7 619.0,312.7 617.2,312.6 615.4,312.4 613.6,312.3 611.8,312.1 610.1,311.9 608.3,311.5 606.5,308.7Z M637.0,309.2 638.8,305.4 640.6,303.8 642.4,303.0 644.1,302.5 645.9,302.2 647.7,302.0 649.5,301.8 651.3,301.8 653.1,301.9 654.9,302.0 656.7,302.3 658.4,302.9 660.2,303.7 662.0,305.2 663.8,309.0 663.8,309.0 662.0,312.8 660.2,314.3 658.4,315.2 656.7,315.7 654.9,316.0 653.1,316.2 651.3,316.3 649.5,316.3 647.7,316.2 645.9,316.0 644.1,315.7 642.4,315.2 640.6,314.5 638.8,313.0 637.0,309.2Z M669.9,308.8 671.6,306.2 673.3,305.9 675.1,305.9 676.8,305.9 678.5,305.9 680.2,305.9 681.9,306.0 683.7,306.1 685.4,306.2 687.1,306.3 688.8,306.5 690.5,306.7 692.3,306.9 694.0,307.4 695.7,310.2 695.7,310.2 694.0,313.0 692.3,313.4 690.5,313.5 688.8,313.5 687.1,313.5 685.4,313.4 683.7,313.2 681.9,313.1 680.2,312.9 678.5,312.7 676.8,312.5 675.1,312.2 673.3,312.0 671.6,311.5 669.9,308.8Z M701.2,308.8 703.0,305.9 704.8,305.5 706.5,305.4 708.3,305.3 710.1,305.3 711.9,305.3 713.7,305.4 715.4,305.5 717.2,305.6 719.0,305.7 720.8,305.9 722.5,306.2 724.3,307.0 726.1,310.3 726.1,310.3 724.3,313.4 722.5,314.0 720.8,314.1 719.0,314.1 717.2,313.9 715.4,313.8 713.7,313.6 711.9,313.4 710.1,313.2 708.3,313.0 706.5,312.8 704.8,312.5 703.0,311.9 701.2,308.8Z M544.7,335.2 546.5,331.4 548.2,330.0 550.0,329.4 551.7,329.0 553.5,328.8 555.2,328.8 557.0,328.8 558.7,328.8 560.5,328.8 562.2,328.9 564.0,329.2 565.7,329.6 567.5,330.1 569.2,331.4 571.0,335.2 571.0,335.2 569.2,339.0 567.5,340.2 565.7,340.7 564.0,341.0 562.2,341.2 560.5,341.3 558.7,341.3 557.0,341.3 555.2,341.3 553.5,341.3 551.7,341.1 550.0,340.8 548.2,340.3 546.5,339.0 544.7,335.2Z M576.0,335.0 577.8,331.5 579.6,330.6 581.5,330.2 583.3,329.9 585.1,329.7 586.9,329.6 588.8,329.6 590.6,329.5 592.4,329.6 594.2,329.7 596.0,330.0 597.9,330.3 599.7,331.1 601.5,334.5 601.5,334.5 599.7,337.9 597.9,338.7 596.0,339.0 594.2,339.3 592.4,339.5 590.6,339.6 588.8,339.6 586.9,339.6 585.1,339.6 583.3,339.5 581.5,339.3 579.6,339.1 577.8,338.3 576.0,335.0Z M606.5,335.2 608.3,333.2 610.1,333.0 611.8,332.7 613.6,332.4 615.4,332.2 617.2,331.9 619.0,331.7 620.7,331.6 622.5,331.5 624.3,331.5 626.1,331.8 627.8,332.1 629.6,332.8 631.4,335.7 631.4,335.7 629.6,338.3 627.8,338.5 626.1,338.4 624.3,338.4 622.5,338.2 620.7,338.1 619.0,337.9 617.2,337.7 615.4,337.6 613.6,337.4 611.8,337.3 610.1,337.2 608.3,337.1 606.5,335.2Z M637.0,335.0 638.8,330.8 640.6,328.9 642.4,327.9 644.1,327.4 645.9,327.1 647.7,326.9 649.5,326.7 651.3,326.7 653.1,326.9 654.9,327.1 656.7,327.4 658.4,327.9 660.2,328.9 662.0,330.8 663.8,335.0 663.8,335.0 662.0,339.2 660.2,341.0 658.4,342.0 656.7,342.5 654.9,342.8 653.1,343.0 651.3,343.1 649.5,343.1 647.7,343.0 645.9,342.8 644.1,342.5 642.4,342.0 640.6,341.0 638.8,339.2 637.0,335.0Z M669.9,336.4 671.6,333.5 673.3,333.0 675.1,332.7 676.8,332.3 678.5,332.0 680.2,331.7 681.9,331.4 683.7,331.0 685.4,330.7 687.1,330.5 688.8,330.3 690.5,330.3 692.3,330.3 694.0,330.6 695.7,333.1 695.7,333.1 694.0,336.0 692.3,336.7 690.5,337.2 688.8,337.7 687.1,338.1 685.4,338.4 683.7,338.7 681.9,338.9 680.2,339.2 678.5,339.4 676.8,339.5 675.1,339.5 673.3,339.5 671.6,339.2 669.9,336.4Z M701.2,336.3 703.0,332.9 704.8,332.0 706.5,331.7 708.3,331.5 710.1,331.2 711.9,330.9 713.7,330.6 715.4,330.3 717.2,330.1 719.0,329.9 720.8,329.8 722.5,329.8 724.3,330.3 726.1,333.3 726.1,333.3 724.3,336.7 722.5,337.8 720.8,338.5 719.0,339.1 717.2,339.5 715.4,339.8 713.7,340.0 711.9,340.2 710.1,340.4 708.3,340.4 706.5,340.4 704.8,340.3 703.0,339.6 701.2,336.3Z M545.2,358.0 546.9,356.1 548.6,356.1 550.4,356.0 552.1,355.9 553.8,355.9 555.5,355.8 557.2,355.7 559.0,355.6 560.7,355.5 562.4,355.4 564.1,355.3 565.8,355.3 567.6,355.4 569.3,355.5 571.0,357.5 571.0,357.5 569.3,359.6 567.6,359.8 565.8,359.9 564.1,360.0 562.4,360.1 560.7,360.1 559.0,360.1 557.2,360.2 555.5,360.2 553.8,360.1 552.1,360.1 550.4,360.0 548.6,359.9 546.9,359.9 545.2,358.0Z M638.0,357.6 639.8,355.3 641.7,355.0 643.5,354.8 645.3,354.6 647.2,354.5 649.0,354.5 650.8,354.6 652.6,354.6 654.5,354.7 656.3,355.0 658.1,355.3 660.0,355.6 661.8,358.0 661.8,358.0 660.0,360.2 658.1,360.4 656.3,360.6 654.5,360.7 652.6,360.7 650.8,360.7 649.0,360.7 647.2,360.6 645.3,360.5 643.5,360.4 641.7,360.2 639.8,360.0 638.0,357.6Z M544.7,381.5 546.5,377.8 548.2,376.7 550.0,376.3 551.7,376.1 553.5,375.9 555.2,375.9 557.0,375.9 558.7,375.9 560.5,375.9 562.2,376.0 564.0,376.2 565.7,376.5 567.5,376.8 569.2,377.8 571.0,381.2 571.0,381.2 569.2,384.7 567.5,385.6 565.7,385.9 564.0,386.2 562.2,386.3 560.5,386.4 558.7,386.4 557.0,386.4 555.2,386.4 553.5,386.4 551.7,386.3 550.0,386.2 548.2,385.9 546.5,385.0 544.7,381.5Z M576.0,382.5 577.8,378.7 579.6,377.6 581.5,377.2 583.3,376.7 585.1,376.3 586.9,376.0 588.8,375.6 590.6,375.3 592.4,375.0 594.2,374.8 596.0,374.9 597.9,375.0 599.7,375.8 601.5,379.1 601.5,379.1 599.7,382.7 597.9,383.9 596.0,384.5 594.2,385.1 592.4,385.5 590.6,385.8 588.8,386.1 586.9,386.3 585.1,386.5 583.3,386.7 581.5,386.7 579.6,386.7 577.8,385.9 576.0,382.5Z M606.5,382.0 608.3,378.4 610.1,377.4 611.8,377.0 613.6,376.8 615.4,376.6 617.2,376.5 619.0,376.5 620.7,376.5 622.5,376.5 624.3,376.6 626.1,376.7 627.8,377.0 629.6,378.0 631.4,381.5 631.4,381.5 629.6,385.2 627.8,386.3 626.1,386.7 624.3,387.0 622.5,387.1 620.7,387.1 619.0,387.1 617.2,387.1 615.4,387.0 613.6,386.9 611.8,386.7 610.1,386.4 608.3,385.5 606.5,382.0Z M637.0,381.4 638.8,377.5 640.6,375.9 642.4,375.0 644.1,374.5 645.9,374.1 647.7,373.9 649.5,373.7 651.3,373.7 653.1,373.8 654.9,374.0 656.7,374.3 658.4,374.8 660.2,375.7 662.0,377.3 663.8,381.2 663.8,381.2 662.0,384.8 660.2,386.1 658.4,386.7 656.7,387.1 654.9,387.3 653.1,387.4 651.3,387.5 649.5,387.5 647.7,387.4 645.9,387.3 644.1,387.1 642.4,386.8 640.6,386.3 638.8,385.0 637.0,381.4Z M669.9,380.5 671.6,377.3 673.3,376.5 675.1,376.4 676.8,376.5 678.5,376.9 680.2,377.3 681.9,377.6 683.7,377.5 685.4,377.1 687.1,376.6 688.8,376.1 690.5,375.8 692.3,375.9 694.0,376.6 695.7,379.8 695.7,379.8 694.0,383.0 692.3,383.9 690.5,384.3 688.8,384.4 687.1,384.4 685.4,384.4 683.7,384.4 681.9,384.5 680.2,384.7 678.5,385.0 676.8,385.2 675.1,385.2 673.3,384.9 671.6,383.9 669.9,380.5Z M701.2,381.7 703.0,377.9 704.8,376.7 706.5,376.3 708.3,376.0 710.1,376.0 711.9,375.9 713.7,376.0 715.4,376.0 717.2,376.0 719.0,376.2 720.8,376.5 722.5,376.9 724.3,378.0 726.1,381.8 726.1,381.8 724.3,385.5 722.5,386.7 720.8,387.1 719.0,387.4 717.2,387.5 715.4,387.5 713.7,387.5 711.9,387.5 710.1,387.4 708.3,387.3 706.5,387.1 704.8,386.7 703.0,385.5 701.2,381.7Z M640.0,404.8 641.9,402.3 643.7,402.0 645.5,401.8 647.4,401.8 649.2,401.9 651.1,402.1 652.9,402.5 654.8,404.9 654.8,404.9 652.9,407.3 651.1,407.5 649.2,407.7 647.4,407.7 645.5,407.6 643.7,407.5 641.9,407.2 640.0,404.8Z M544.7,429.3 546.5,427.0 548.2,426.7 550.0,426.4 551.7,426.2 553.5,426.1 555.2,426.1 557.0,426.1 558.7,426.1 560.5,426.2 562.2,426.2 564.0,426.4 565.7,426.6 567.5,426.9 569.2,427.1 571.0,429.4 571.0,429.4 569.2,431.6 567.5,431.8 565.7,432.1 564.0,432.2 562.2,432.3 560.5,432.4 558.7,432.4 557.0,432.3 555.2,432.3 553.5,432.3 551.7,432.1 550.0,432.0 548.2,431.8 546.5,431.6 544.7,429.3Z M577.0,429.5 578.8,427.3 580.6,427.0 582.4,426.8 584.2,426.7 586.0,426.6 587.8,426.7 589.7,426.7 591.5,426.8 593.3,427.0 595.1,427.1 596.9,427.3 598.7,427.6 600.5,429.9 600.5,429.9 598.7,432.1 596.9,432.3 595.1,432.4 593.3,432.4 591.5,432.4 589.7,432.3 587.8,432.3 586.0,432.2 584.2,432.1 582.4,431.9 580.6,431.8 578.8,431.6 577.0,429.5Z M606.5,429.6 608.3,426.5 610.1,425.7 611.8,425.4 613.6,425.1 615.4,425.0 617.2,425.0 619.0,425.0 620.7,425.0 622.5,425.0 624.3,425.1 626.1,425.4 627.8,425.8 629.6,426.6 631.4,429.8 631.4,429.8 629.6,432.9 627.8,433.6 626.1,433.9 624.3,434.1 622.5,434.1 620.7,434.1 619.0,434.1 617.2,434.1 615.4,434.0 613.6,433.9 611.8,433.7 610.1,433.4 608.3,432.7 606.5,429.6Z M639.5,429.2 641.5,426.7 643.4,426.6 645.4,426.7 647.3,426.9 649.3,429.4 649.3,429.4 647.3,431.8 645.4,431.9 643.4,431.9 641.5,431.7 639.5,429.2Z M669.9,429.8 671.6,426.9 673.3,426.3 675.1,426.0 676.8,425.7 678.5,425.6 680.2,425.6 681.9,425.6 683.7,425.6 685.4,425.6 687.1,425.6 688.8,425.7 690.5,426.0 692.3,426.3 694.0,426.9 695.7,429.9 695.7,429.9 694.0,432.9 692.3,433.5 690.5,433.8 688.8,434.0 687.1,434.1 685.4,434.1 683.7,434.1 681.9,434.1 680.2,434.1 678.5,434.0 676.8,433.9 675.1,433.7 673.3,433.3 671.6,432.7 669.9,429.8Z M701.2,429.8 703.0,427.7 704.8,427.5 706.5,427.3 708.3,427.2 710.1,427.1 711.9,427.1 713.7,427.2 715.4,427.3 717.2,427.4 719.0,427.5 720.8,427.7 722.5,427.9 724.3,428.2 726.1,430.4 726.1,430.4 724.3,432.5 722.5,432.7 720.8,432.8 719.0,432.9 717.2,432.9 715.4,432.8 713.7,432.7 711.9,432.6 710.1,432.5 708.3,432.3 706.5,432.2 704.8,432.0 703.0,431.8 701.2,429.8Z M544.7,456.2 546.5,453.7 548.2,453.4 550.0,453.4 551.7,453.6 553.5,454.0 555.2,454.4 557.0,454.8 558.7,455.1 560.5,455.2 562.2,455.0 564.0,454.8 565.7,454.7 567.5,454.7 569.2,454.8 571.0,456.7 571.0,456.7 569.2,458.5 567.5,458.6 565.7,458.6 564.0,458.6 562.2,458.4 560.5,458.3 558.7,458.3 557.0,458.5 555.2,458.6 553.5,458.8 551.7,459.0 550.0,459.0 548.2,458.9 546.5,458.6 544.7,456.2Z M576.0,455.0 577.8,452.8 579.5,452.6 581.3,452.3 583.1,452.2 584.8,452.1 586.6,452.1 588.4,452.2 590.1,452.2 591.9,452.3 593.7,452.4 595.4,452.6 597.2,452.7 599.0,453.0 600.7,453.2 602.5,455.4 602.5,455.4 600.7,457.5 599.0,457.6 597.2,457.7 595.4,457.7 593.7,457.7 591.9,457.7 590.1,457.6 588.4,457.6 586.6,457.5 584.8,457.4 583.1,457.3 581.3,457.3 579.5,457.2 577.8,457.1 576.0,455.0Z M637.0,457.0 638.8,454.3 640.6,453.9 642.4,453.5 644.1,453.2 645.9,453.0 647.7,452.8 649.5,452.7 651.3,452.5 653.1,452.4 654.9,452.4 656.7,452.5 658.4,452.7 660.2,453.0 662.0,453.5 663.8,456.3 663.8,456.3 662.0,459.1 660.2,459.5 658.4,459.8 656.7,460.0 654.9,460.2 653.1,460.2 651.3,460.3 649.5,460.3 647.7,460.3 645.9,460.3 644.1,460.2 642.4,460.1 640.6,459.8 638.8,459.5 637.0,457.0Z M544.7,481.4 546.5,478.6 548.2,478.1 550.0,478.0 551.7,478.1 553.5,478.3 555.2,478.5 557.0,478.7 558.7,478.7 560.5,478.5 562.2,478.3 564.0,478.1 565.7,478.0 567.5,478.1 569.2,478.6 571.0,481.4 571.0,481.4 569.2,484.3 567.5,484.8 565.7,484.9 564.0,484.8 562.2,484.6 560.5,484.4 558.7,484.2 557.0,484.2 555.2,484.4 553.5,484.6 551.7,484.8 550.0,484.9 548.2,484.8 546.5,484.3 544.7,481.4Z M576.0,481.4 577.8,478.5 579.6,478.1 581.5,478.0 583.3,478.1 585.1,478.4 586.9,478.6 588.8,478.7 590.6,478.6 592.4,478.4 594.2,478.1 596.0,478.0 597.9,478.1 599.7,478.5 601.5,481.4 601.5,481.4 599.7,484.4 597.9,484.8 596.0,484.9 594.2,484.8 592.4,484.5 590.6,484.3 588.8,484.2 586.9,484.3 585.1,484.5 583.3,484.8 581.5,484.9 579.6,484.8 577.8,484.4 576.0,481.4Z M606.5,480.8 608.3,478.0 610.1,477.6 611.8,477.5 613.6,477.5 615.4,477.7 617.2,477.8 619.0,477.8 620.7,477.7 622.5,477.4 624.3,477.1 626.1,476.9 627.8,477.0 629.6,477.4 631.4,480.2 631.4,480.2 629.6,483.0 627.8,483.4 626.1,483.5 624.3,483.5 622.5,483.3 620.7,483.2 619.0,483.2 617.2,483.3 615.4,483.6 613.6,483.9 611.8,484.1 610.1,484.0 608.3,483.6 606.5,480.8Z M637.0,480.2 638.8,477.4 640.6,477.0 642.4,476.9 644.1,476.9 645.9,477.1 647.7,477.4 649.5,477.5 651.3,477.5 653.1,477.4 654.9,477.1 656.7,476.9 658.4,476.9 660.2,477.0 662.0,477.4 663.8,480.2 663.8,480.2 662.0,483.0 660.2,483.4 658.4,483.5 656.7,483.5 654.9,483.3 653.1,483.0 651.3,482.9 649.5,482.9 647.7,483.0 645.9,483.3 644.1,483.5 642.4,483.5 640.6,483.4 638.8,483.0 637.0,480.2Z M669.9,480.2 671.6,477.7 673.3,477.4 675.1,477.2 676.8,477.2 678.5,477.3 680.2,477.4 681.9,477.4 683.7,477.3 685.4,477.0 687.1,476.7 688.8,476.4 690.5,476.3 692.3,476.4 694.0,476.7 695.7,479.2 695.7,479.2 694.0,481.7 692.3,482.0 690.5,482.2 688.8,482.2 687.1,482.1 685.4,482.0 683.7,482.0 681.9,482.1 680.2,482.4 678.5,482.7 676.8,483.0 675.1,483.1 673.3,483.0 671.6,482.7 669.9,480.2Z M701.2,479.1 703.0,476.5 704.8,476.1 706.5,475.9 708.3,475.7 710.1,475.6 711.9,475.5 713.7,475.4 715.4,475.3 717.2,475.3 719.0,475.3 720.8,475.5 722.5,475.6 724.3,475.9 726.1,478.3 726.1,478.3 724.3,480.7 722.5,480.9 720.8,481.0 719.0,481.2 717.2,481.3 715.4,481.4 713.7,481.5 711.9,481.6 710.1,481.7 708.3,481.8 706.5,481.8 704.8,481.8 703.0,481.6 701.2,479.1Z" fill="#161616" filter="url(#b1)"/>
<path d="M576.5,357.9 578.4,356.0 580.2,356.0 582.1,356.1 583.9,356.2 585.8,356.3 587.6,356.3 589.5,358.0 589.5,358.0 587.6,359.6 585.8,359.7 583.9,359.7 582.1,359.8 580.2,359.8 578.4,359.8 576.5,357.9Z" fill="#161616" opacity="0.95" filter="url(#b1)"/>
<path d="M585.0,358.2 586.8,357.0 588.7,357.0 590.5,357.0 592.3,357.0 594.2,357.0 596.0,357.0 597.8,357.0 599.7,357.0 601.5,358.2 601.5,358.2 599.7,359.4 597.8,359.4 596.0,359.4 594.2,359.4 592.3,359.4 590.5,359.4 588.7,359.4 586.8,359.4 585.0,358.2Z" fill="#161616" opacity="0.42" filter="url(#b1)"/>
<path d="M609.5,358.0 611.3,356.4 613.1,356.3 615.0,356.3 616.8,356.3 618.6,356.2 620.5,356.2 622.3,356.2 624.1,356.1 625.9,356.1 627.8,356.1 629.6,356.0 631.4,357.6 631.4,357.6 629.6,359.2 627.8,359.3 625.9,359.3 624.1,359.3 622.3,359.4 620.5,359.4 618.6,359.4 616.8,359.5 615.0,359.5 613.1,359.5 611.3,359.6 609.5,358.0Z" fill="#161616" opacity="0.25" filter="url(#b2)"/>
<path d="M670.9,357.8 672.7,356.1 674.4,356.1 676.2,356.1 677.9,356.2 679.7,356.2 681.4,356.3 683.2,356.3 684.9,356.4 686.7,356.4 688.4,356.5 690.2,356.5 691.9,356.5 693.7,358.2 693.7,358.2 691.9,359.8 690.2,359.8 688.4,359.8 686.7,359.7 684.9,359.7 683.2,359.7 681.4,359.7 679.7,359.7 677.9,359.7 676.2,359.6 674.4,359.6 672.7,359.6 670.9,357.8Z" fill="#161616" opacity="0.32" filter="url(#b2)"/>
<path d="M703.2,358.0 705.0,356.0 706.7,356.0 708.5,356.0 710.2,356.0 712.0,356.0 713.8,356.0 715.5,356.0 717.3,356.0 719.1,356.0 720.8,356.0 722.6,356.0 724.3,356.0 726.1,358.0 726.1,358.0 724.3,360.0 722.6,360.0 720.8,360.0 719.1,360.0 717.3,360.0 715.5,360.0 713.8,360.0 712.0,360.0 710.2,360.0 708.5,360.0 706.7,360.0 705.0,360.0 703.2,358.0Z" fill="#161616" opacity="0.45" filter="url(#b1)"/>
<path d="M705.2,358.2 706.7,356.6 708.2,356.6 709.6,356.6 711.1,358.2 711.1,358.2 709.6,359.8 708.2,359.8 706.7,359.8 705.2,358.2Z M718.2,358.0 719.9,356.4 721.7,356.4 723.4,356.4 725.1,358.0 725.1,358.0 723.4,359.6 721.7,359.6 719.9,359.6 718.2,358.0Z" fill="#161616" opacity="0.6" filter="url(#b0)"/>
<path d="M546.7,405.8 548.4,404.3 550.2,404.1 551.9,404.0 553.6,403.9 555.4,403.8 557.1,403.6 558.9,403.5 560.6,403.4 562.3,403.2 564.1,403.1 565.8,403.0 567.5,402.9 569.3,402.7 571.0,404.3 571.0,404.3 569.3,405.9 567.5,406.0 565.8,406.1 564.1,406.3 562.3,406.4 560.6,406.5 558.9,406.6 557.1,406.7 555.4,406.8 553.6,406.9 551.9,407.1 550.2,407.2 548.4,407.3 546.7,405.8Z M578.0,406.1 579.8,404.3 581.6,404.2 583.4,404.1 585.2,404.0 587.0,403.9 588.8,403.8 590.7,403.8 592.5,403.7 594.3,403.6 596.1,403.5 597.9,403.4 599.7,403.3 601.5,404.8 601.5,404.8 599.7,406.5 597.9,406.6 596.1,406.7 594.3,406.8 592.5,406.9 590.7,407.0 588.8,407.2 587.0,407.3 585.2,407.4 583.4,407.5 581.6,407.6 579.8,407.7 578.0,406.1Z M703.2,405.9 705.0,404.5 706.7,404.4 708.5,404.2 710.2,404.1 712.0,404.0 713.8,403.9 715.5,403.7 717.3,403.6 719.1,403.5 720.8,403.4 722.6,403.2 724.3,403.1 726.1,404.6 726.1,404.6 724.3,406.1 722.6,406.2 720.8,406.3 719.1,406.4 717.3,406.5 715.5,406.6 713.8,406.8 712.0,406.9 710.2,407.0 708.5,407.1 706.7,407.2 705.0,407.3 703.2,405.9Z" fill="#161616" opacity="0.4" filter="url(#b2)"/>
<path d="M610.5,406.1 612.2,404.9 614.0,404.8 615.7,404.6 617.5,404.5 619.2,404.4 621.0,404.3 622.7,404.2 624.4,404.1 626.2,404.0 627.9,403.8 629.7,403.7 631.4,404.9 631.4,404.9 629.7,406.1 627.9,406.2 626.2,406.3 624.4,406.5 622.7,406.6 621.0,406.7 619.2,406.8 617.5,406.9 615.7,407.0 614.0,407.2 612.2,407.3 610.5,406.1Z M673.9,405.4 675.7,404.2 677.5,404.2 679.2,404.2 681.0,404.2 682.8,404.2 684.6,404.2 686.4,404.2 688.1,404.2 689.9,404.2 691.7,405.4 691.7,405.4 689.9,406.6 688.1,406.6 686.4,406.6 684.6,406.6 682.8,406.6 681.0,406.6 679.2,406.6 677.5,406.6 675.7,406.6 673.9,405.4Z" fill="#161616" opacity="0.22" filter="url(#b2)"/>
<path d="M649.0,404.9 650.9,402.9 652.7,403.0 654.5,403.1 656.4,403.1 658.2,403.2 660.1,403.3 661.9,403.4 663.8,405.0 663.8,405.0 661.9,406.6 660.1,406.6 658.2,406.7 656.4,406.7 654.5,406.8 652.7,406.9 650.9,406.9 649.0,404.9Z" fill="#161616" opacity="0.32" filter="url(#b2)"/>
<path d="M647.0,429.6 648.9,427.3 650.7,427.3 652.5,427.3 654.4,427.4 656.2,427.4 658.1,427.5 659.9,427.6 661.8,429.6 661.8,429.6 659.9,431.6 658.1,431.7 656.2,431.7 654.4,431.8 652.5,431.8 650.7,431.9 648.9,431.9 647.0,429.6Z" fill="#161616" opacity="0.32" filter="url(#b2)"/>
<path d="M609.5,458.1 611.3,456.2 613.1,456.0 614.9,455.9 616.7,455.7 618.5,455.5 620.4,455.3 622.2,455.1 624.0,454.9 625.8,454.8 627.6,454.6 629.4,456.4 629.4,456.4 627.6,458.4 625.8,458.5 624.0,458.7 622.2,458.9 620.4,459.0 618.5,459.2 616.7,459.3 614.9,459.5 613.1,459.7 611.3,459.8 609.5,458.1Z M671.9,457.0 673.7,455.3 675.5,455.1 677.4,455.0 679.2,454.9 681.0,454.7 682.8,454.6 684.6,454.5 686.4,454.3 688.2,454.2 690.1,454.1 691.9,453.9 693.7,455.7 693.7,455.7 691.9,457.5 690.1,457.6 688.2,457.8 686.4,457.9 684.6,458.0 682.8,458.1 681.0,458.2 679.2,458.3 677.4,458.5 675.5,458.6 673.7,458.7 671.9,457.0Z" fill="#161616" opacity="0.36" filter="url(#b2)"/>
<path d="M703.2,455.4 705.0,452.8 706.7,452.5 708.5,452.2 710.2,452.0 712.0,451.8 713.8,451.8 715.5,451.8 717.3,452.0 719.1,452.1 720.8,452.2 722.6,452.3 724.3,452.7 726.1,455.5 726.1,455.5 724.3,458.2 722.6,458.3 720.8,458.2 719.1,458.1 717.3,458.0 715.5,457.8 713.8,457.7 712.0,457.7 710.2,457.7 708.5,457.8 706.7,457.8 705.0,457.8 703.2,455.4Z" fill="#161616" opacity="0.78" filter="url(#b1)"/>
<path d="M714.2,455.5 716.4,452.7 718.6,452.6 720.7,452.6 722.9,452.7 725.1,455.6 725.1,455.6 722.9,458.4 720.7,458.5 718.6,458.5 716.4,458.4 714.2,455.5Z" fill="#161616" opacity="0.6" filter="url(#b1)"/>
<g transform="translate(561.80 502.80) rotate(-45)">
<text x="0" y="0" font-size="13.0" text-anchor="end" fill="#222">Blank</text>
</g>
<g transform="translate(595.50 502.30) rotate(-45)">
<text x="0" y="0" font-size="13.0" text-anchor="end" fill="#222">NC</text>
</g>
<g transform="translate(627.80 503.00) rotate(-45)">
<text x="0" y="0" font-size="13.0" text-anchor="end" fill="#222">miR-145 mimic</text>
</g>
<g transform="translate(661.00 503.50) rotate(-45)">
<text x="0" y="0" font-size="13.0" text-anchor="end" fill="#222">miR-145 inhibitor</text>
</g>
<g transform="translate(692.30 505.20) rotate(-45)">
<text x="0" y="0" font-size="13.0" text-anchor="end" fill="#222">si-FSCN1</text>
</g>
<g transform="translate(723.80 505.30) rotate(-45)">
<text x="0" y="0" font-size="13.0" text-anchor="end" fill="#222">miR-145 inhibitor</text>
<text x="-52.93" y="15.6" font-size="13.0" text-anchor="middle" fill="#222">+ si-FSCN1</text>
</g>
</svg>
<div class="num">03</div>
<div class="ttl">作者回复</div>
<div class="l1"></div><div class="l2"></div>
</body></html>
